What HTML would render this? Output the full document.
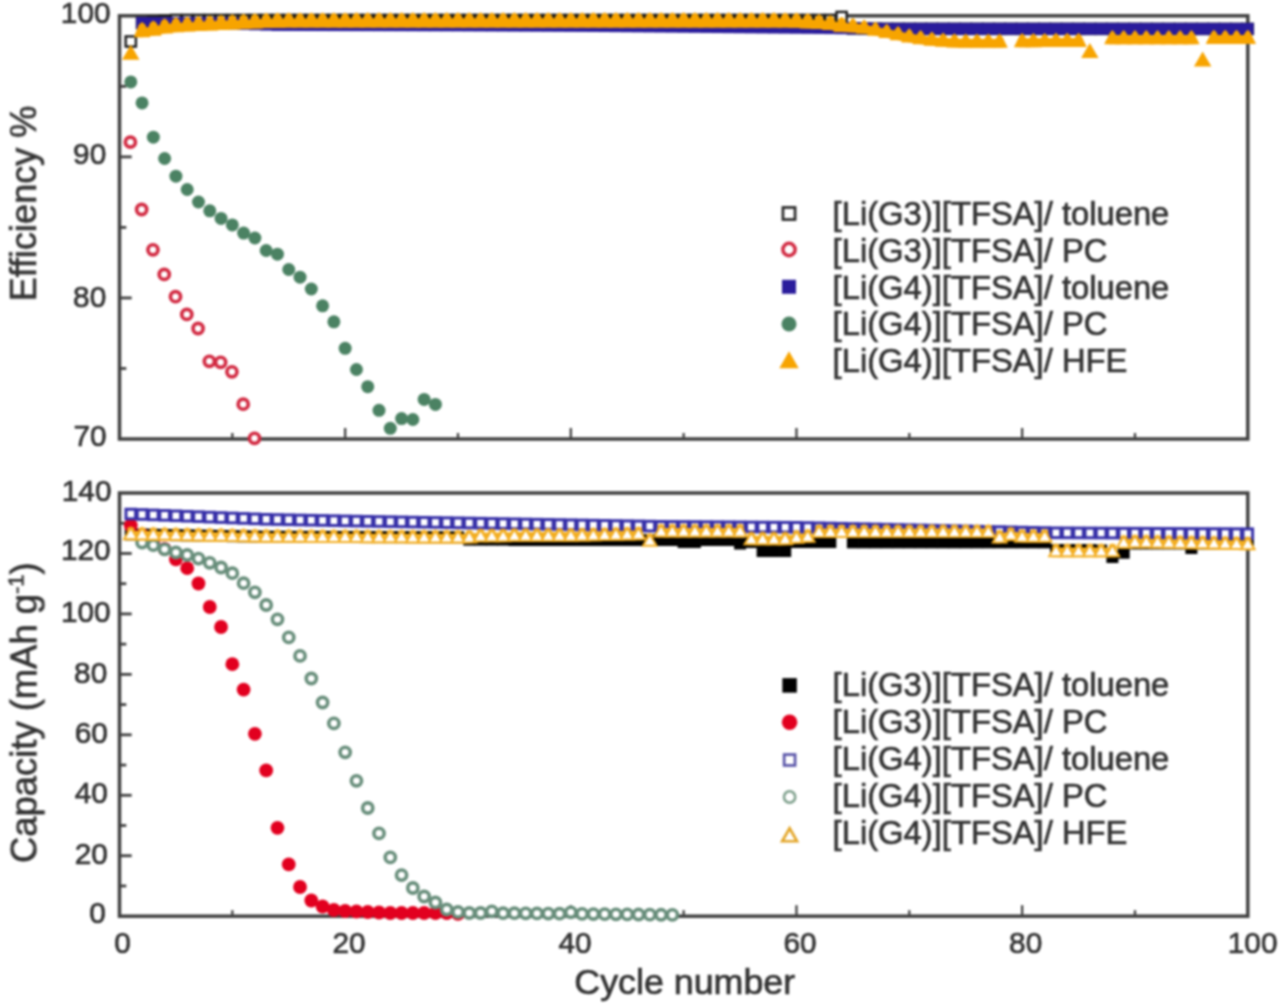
<!DOCTYPE html>
<html lang="en">
<head>
<meta charset="utf-8">
<title>Cycle performance: efficiency and capacity vs cycle number</title>
<style>
html,body{margin:0;padding:0;background:#fff;}
body{width:1280px;height:1006px;overflow:hidden;font-family:"Liberation Sans",sans-serif;}
svg{display:block;}
text{font-family:"Liberation Sans",sans-serif;}
</style>
</head>
<body>
<svg width="1280" height="1006" viewBox="0 0 1280 1006">
<defs>
<filter id="soft" x="-2%" y="-2%" width="104%" height="104%" color-interpolation-filters="sRGB"><feGaussianBlur stdDeviation="1.1"/></filter>
<filter id="softt" x="-2%" y="-2%" width="104%" height="104%" color-interpolation-filters="sRGB"><feGaussianBlur stdDeviation="0.9"/></filter>
</defs>
<rect x="-20" y="-20" width="1320" height="1046" fill="#ffffff"/>
<g filter="url(#soft)">
<g id="axes">
<rect x="119.5" y="15.8" width="1128.30" height="423.20" fill="none" stroke="#404040" stroke-width="3.5"/>
<rect x="119.5" y="493.0" width="1128.30" height="423.20" fill="none" stroke="#404040" stroke-width="3.5"/>
<line x1="232.33" y1="439.0" x2="232.33" y2="433.0" stroke="#404040" stroke-width="2.3"/>
<line x1="345.16" y1="439.0" x2="345.16" y2="428.0" stroke="#404040" stroke-width="2.3"/>
<line x1="457.99" y1="439.0" x2="457.99" y2="433.0" stroke="#404040" stroke-width="2.3"/>
<line x1="570.82" y1="439.0" x2="570.82" y2="428.0" stroke="#404040" stroke-width="2.3"/>
<line x1="683.65" y1="439.0" x2="683.65" y2="433.0" stroke="#404040" stroke-width="2.3"/>
<line x1="796.48" y1="439.0" x2="796.48" y2="428.0" stroke="#404040" stroke-width="2.3"/>
<line x1="909.31" y1="439.0" x2="909.31" y2="433.0" stroke="#404040" stroke-width="2.3"/>
<line x1="1022.14" y1="439.0" x2="1022.14" y2="428.0" stroke="#404040" stroke-width="2.3"/>
<line x1="1134.97" y1="439.0" x2="1134.97" y2="433.0" stroke="#404040" stroke-width="2.3"/>
<line x1="232.33" y1="916.2" x2="232.33" y2="910.2" stroke="#404040" stroke-width="2.3"/>
<line x1="345.16" y1="916.2" x2="345.16" y2="905.2" stroke="#404040" stroke-width="2.3"/>
<line x1="457.99" y1="916.2" x2="457.99" y2="910.2" stroke="#404040" stroke-width="2.3"/>
<line x1="570.82" y1="916.2" x2="570.82" y2="905.2" stroke="#404040" stroke-width="2.3"/>
<line x1="683.65" y1="916.2" x2="683.65" y2="910.2" stroke="#404040" stroke-width="2.3"/>
<line x1="796.48" y1="916.2" x2="796.48" y2="905.2" stroke="#404040" stroke-width="2.3"/>
<line x1="909.31" y1="916.2" x2="909.31" y2="910.2" stroke="#404040" stroke-width="2.3"/>
<line x1="1022.14" y1="916.2" x2="1022.14" y2="905.2" stroke="#404040" stroke-width="2.3"/>
<line x1="1134.97" y1="916.2" x2="1134.97" y2="910.2" stroke="#404040" stroke-width="2.3"/>
<line x1="119.5" y1="156.87" x2="131.7" y2="156.87" stroke="#404040" stroke-width="2.8"/>
<line x1="119.5" y1="297.93" x2="131.7" y2="297.93" stroke="#404040" stroke-width="2.8"/>
<line x1="119.5" y1="86.33" x2="126.3" y2="86.33" stroke="#404040" stroke-width="2.8"/>
<line x1="119.5" y1="227.40" x2="126.3" y2="227.40" stroke="#404040" stroke-width="2.8"/>
<line x1="119.5" y1="368.47" x2="126.3" y2="368.47" stroke="#404040" stroke-width="2.8"/>
<line x1="119.5" y1="855.74" x2="131.7" y2="855.74" stroke="#404040" stroke-width="2.8"/>
<line x1="119.5" y1="795.29" x2="131.7" y2="795.29" stroke="#404040" stroke-width="2.8"/>
<line x1="119.5" y1="734.83" x2="131.7" y2="734.83" stroke="#404040" stroke-width="2.8"/>
<line x1="119.5" y1="674.37" x2="131.7" y2="674.37" stroke="#404040" stroke-width="2.8"/>
<line x1="119.5" y1="613.91" x2="131.7" y2="613.91" stroke="#404040" stroke-width="2.8"/>
<line x1="119.5" y1="553.46" x2="131.7" y2="553.46" stroke="#404040" stroke-width="2.8"/>
<line x1="119.5" y1="885.97" x2="126.3" y2="885.97" stroke="#404040" stroke-width="2.8"/>
<line x1="119.5" y1="825.51" x2="126.3" y2="825.51" stroke="#404040" stroke-width="2.8"/>
<line x1="119.5" y1="765.06" x2="126.3" y2="765.06" stroke="#404040" stroke-width="2.8"/>
<line x1="119.5" y1="704.60" x2="126.3" y2="704.60" stroke="#404040" stroke-width="2.8"/>
<line x1="119.5" y1="644.14" x2="126.3" y2="644.14" stroke="#404040" stroke-width="2.8"/>
<line x1="119.5" y1="583.69" x2="126.3" y2="583.69" stroke="#404040" stroke-width="2.8"/>
<line x1="119.5" y1="523.23" x2="126.3" y2="523.23" stroke="#404040" stroke-width="2.8"/>
</g>
<g id="top-data">
<rect x="125.68" y="36.40" width="10.20" height="10.20" fill="#fff" stroke="#1a1a1a" stroke-width="2.4"/>
<rect x="136.97" y="17.90" width="10.20" height="10.20" fill="#fff" stroke="#1a1a1a" stroke-width="2.4"/>
<rect x="148.25" y="16.90" width="10.20" height="10.20" fill="#fff" stroke="#1a1a1a" stroke-width="2.4"/>
<rect x="159.53" y="15.90" width="10.20" height="10.20" fill="#fff" stroke="#1a1a1a" stroke-width="2.4"/>
<rect x="170.81" y="14.90" width="10.20" height="10.20" fill="#fff" stroke="#1a1a1a" stroke-width="2.4"/>
<rect x="182.10" y="14.90" width="10.20" height="10.20" fill="#fff" stroke="#1a1a1a" stroke-width="2.4"/>
<rect x="193.38" y="14.90" width="10.20" height="10.20" fill="#fff" stroke="#1a1a1a" stroke-width="2.4"/>
<rect x="204.66" y="14.90" width="10.20" height="10.20" fill="#fff" stroke="#1a1a1a" stroke-width="2.4"/>
<rect x="215.95" y="14.90" width="10.20" height="10.20" fill="#fff" stroke="#1a1a1a" stroke-width="2.4"/>
<rect x="227.23" y="14.90" width="10.20" height="10.20" fill="#fff" stroke="#1a1a1a" stroke-width="2.4"/>
<rect x="238.51" y="14.90" width="10.20" height="10.20" fill="#fff" stroke="#1a1a1a" stroke-width="2.4"/>
<rect x="249.80" y="14.90" width="10.20" height="10.20" fill="#fff" stroke="#1a1a1a" stroke-width="2.4"/>
<rect x="261.08" y="14.90" width="10.20" height="10.20" fill="#fff" stroke="#1a1a1a" stroke-width="2.4"/>
<rect x="272.36" y="14.90" width="10.20" height="10.20" fill="#fff" stroke="#1a1a1a" stroke-width="2.4"/>
<rect x="283.64" y="14.90" width="10.20" height="10.20" fill="#fff" stroke="#1a1a1a" stroke-width="2.4"/>
<rect x="294.93" y="14.90" width="10.20" height="10.20" fill="#fff" stroke="#1a1a1a" stroke-width="2.4"/>
<rect x="306.21" y="14.90" width="10.20" height="10.20" fill="#fff" stroke="#1a1a1a" stroke-width="2.4"/>
<rect x="317.49" y="14.90" width="10.20" height="10.20" fill="#fff" stroke="#1a1a1a" stroke-width="2.4"/>
<rect x="328.78" y="14.90" width="10.20" height="10.20" fill="#fff" stroke="#1a1a1a" stroke-width="2.4"/>
<rect x="340.06" y="14.90" width="10.20" height="10.20" fill="#fff" stroke="#1a1a1a" stroke-width="2.4"/>
<rect x="351.34" y="14.90" width="10.20" height="10.20" fill="#fff" stroke="#1a1a1a" stroke-width="2.4"/>
<rect x="362.63" y="14.90" width="10.20" height="10.20" fill="#fff" stroke="#1a1a1a" stroke-width="2.4"/>
<rect x="373.91" y="14.90" width="10.20" height="10.20" fill="#fff" stroke="#1a1a1a" stroke-width="2.4"/>
<rect x="385.19" y="14.90" width="10.20" height="10.20" fill="#fff" stroke="#1a1a1a" stroke-width="2.4"/>
<rect x="396.47" y="14.90" width="10.20" height="10.20" fill="#fff" stroke="#1a1a1a" stroke-width="2.4"/>
<rect x="407.76" y="14.90" width="10.20" height="10.20" fill="#fff" stroke="#1a1a1a" stroke-width="2.4"/>
<rect x="419.04" y="14.90" width="10.20" height="10.20" fill="#fff" stroke="#1a1a1a" stroke-width="2.4"/>
<rect x="430.32" y="14.90" width="10.20" height="10.20" fill="#fff" stroke="#1a1a1a" stroke-width="2.4"/>
<rect x="441.61" y="14.90" width="10.20" height="10.20" fill="#fff" stroke="#1a1a1a" stroke-width="2.4"/>
<rect x="452.89" y="14.90" width="10.20" height="10.20" fill="#fff" stroke="#1a1a1a" stroke-width="2.4"/>
<rect x="464.17" y="14.90" width="10.20" height="10.20" fill="#fff" stroke="#1a1a1a" stroke-width="2.4"/>
<rect x="475.46" y="14.90" width="10.20" height="10.20" fill="#fff" stroke="#1a1a1a" stroke-width="2.4"/>
<rect x="486.74" y="14.90" width="10.20" height="10.20" fill="#fff" stroke="#1a1a1a" stroke-width="2.4"/>
<rect x="498.02" y="14.90" width="10.20" height="10.20" fill="#fff" stroke="#1a1a1a" stroke-width="2.4"/>
<rect x="509.30" y="14.90" width="10.20" height="10.20" fill="#fff" stroke="#1a1a1a" stroke-width="2.4"/>
<rect x="520.59" y="14.90" width="10.20" height="10.20" fill="#fff" stroke="#1a1a1a" stroke-width="2.4"/>
<rect x="531.87" y="14.90" width="10.20" height="10.20" fill="#fff" stroke="#1a1a1a" stroke-width="2.4"/>
<rect x="543.15" y="14.90" width="10.20" height="10.20" fill="#fff" stroke="#1a1a1a" stroke-width="2.4"/>
<rect x="554.44" y="14.90" width="10.20" height="10.20" fill="#fff" stroke="#1a1a1a" stroke-width="2.4"/>
<rect x="565.72" y="14.90" width="10.20" height="10.20" fill="#fff" stroke="#1a1a1a" stroke-width="2.4"/>
<rect x="577.00" y="14.90" width="10.20" height="10.20" fill="#fff" stroke="#1a1a1a" stroke-width="2.4"/>
<rect x="588.29" y="14.90" width="10.20" height="10.20" fill="#fff" stroke="#1a1a1a" stroke-width="2.4"/>
<rect x="599.57" y="14.90" width="10.20" height="10.20" fill="#fff" stroke="#1a1a1a" stroke-width="2.4"/>
<rect x="610.85" y="14.90" width="10.20" height="10.20" fill="#fff" stroke="#1a1a1a" stroke-width="2.4"/>
<rect x="622.13" y="14.90" width="10.20" height="10.20" fill="#fff" stroke="#1a1a1a" stroke-width="2.4"/>
<rect x="633.42" y="14.90" width="10.20" height="10.20" fill="#fff" stroke="#1a1a1a" stroke-width="2.4"/>
<rect x="644.70" y="14.90" width="10.20" height="10.20" fill="#fff" stroke="#1a1a1a" stroke-width="2.4"/>
<rect x="655.98" y="14.90" width="10.20" height="10.20" fill="#fff" stroke="#1a1a1a" stroke-width="2.4"/>
<rect x="667.27" y="14.90" width="10.20" height="10.20" fill="#fff" stroke="#1a1a1a" stroke-width="2.4"/>
<rect x="678.55" y="14.90" width="10.20" height="10.20" fill="#fff" stroke="#1a1a1a" stroke-width="2.4"/>
<rect x="689.83" y="14.90" width="10.20" height="10.20" fill="#fff" stroke="#1a1a1a" stroke-width="2.4"/>
<rect x="701.12" y="14.90" width="10.20" height="10.20" fill="#fff" stroke="#1a1a1a" stroke-width="2.4"/>
<rect x="712.40" y="14.90" width="10.20" height="10.20" fill="#fff" stroke="#1a1a1a" stroke-width="2.4"/>
<rect x="723.68" y="14.90" width="10.20" height="10.20" fill="#fff" stroke="#1a1a1a" stroke-width="2.4"/>
<rect x="734.97" y="14.90" width="10.20" height="10.20" fill="#fff" stroke="#1a1a1a" stroke-width="2.4"/>
<rect x="746.25" y="14.90" width="10.20" height="10.20" fill="#fff" stroke="#1a1a1a" stroke-width="2.4"/>
<rect x="757.53" y="14.90" width="10.20" height="10.20" fill="#fff" stroke="#1a1a1a" stroke-width="2.4"/>
<rect x="768.81" y="14.90" width="10.20" height="10.20" fill="#fff" stroke="#1a1a1a" stroke-width="2.4"/>
<rect x="780.10" y="14.90" width="10.20" height="10.20" fill="#fff" stroke="#1a1a1a" stroke-width="2.4"/>
<rect x="791.38" y="14.90" width="10.20" height="10.20" fill="#fff" stroke="#1a1a1a" stroke-width="2.4"/>
<rect x="802.66" y="14.90" width="10.20" height="10.20" fill="#fff" stroke="#1a1a1a" stroke-width="2.4"/>
<rect x="813.95" y="14.90" width="10.20" height="10.20" fill="#fff" stroke="#1a1a1a" stroke-width="2.4"/>
<rect x="825.23" y="14.90" width="10.20" height="10.20" fill="#fff" stroke="#1a1a1a" stroke-width="2.4"/>
<rect x="836.51" y="11.90" width="10.20" height="10.20" fill="#fff" stroke="#1a1a1a" stroke-width="2.4"/>
<rect x="847.79" y="23.30" width="10.20" height="10.20" fill="#fff" stroke="#1a1a1a" stroke-width="2.4"/>
<rect x="859.08" y="23.43" width="10.20" height="10.20" fill="#fff" stroke="#1a1a1a" stroke-width="2.4"/>
<rect x="870.36" y="23.57" width="10.20" height="10.20" fill="#fff" stroke="#1a1a1a" stroke-width="2.4"/>
<rect x="881.64" y="23.70" width="10.20" height="10.20" fill="#fff" stroke="#1a1a1a" stroke-width="2.4"/>
<rect x="892.93" y="23.70" width="10.20" height="10.20" fill="#fff" stroke="#1a1a1a" stroke-width="2.4"/>
<rect x="904.21" y="23.71" width="10.20" height="10.20" fill="#fff" stroke="#1a1a1a" stroke-width="2.4"/>
<rect x="915.49" y="23.71" width="10.20" height="10.20" fill="#fff" stroke="#1a1a1a" stroke-width="2.4"/>
<rect x="926.78" y="23.71" width="10.20" height="10.20" fill="#fff" stroke="#1a1a1a" stroke-width="2.4"/>
<rect x="938.06" y="23.72" width="10.20" height="10.20" fill="#fff" stroke="#1a1a1a" stroke-width="2.4"/>
<rect x="949.34" y="23.72" width="10.20" height="10.20" fill="#fff" stroke="#1a1a1a" stroke-width="2.4"/>
<rect x="960.62" y="23.72" width="10.20" height="10.20" fill="#fff" stroke="#1a1a1a" stroke-width="2.4"/>
<rect x="971.91" y="23.73" width="10.20" height="10.20" fill="#fff" stroke="#1a1a1a" stroke-width="2.4"/>
<rect x="983.19" y="23.73" width="10.20" height="10.20" fill="#fff" stroke="#1a1a1a" stroke-width="2.4"/>
<rect x="994.47" y="23.73" width="10.20" height="10.20" fill="#fff" stroke="#1a1a1a" stroke-width="2.4"/>
<rect x="1005.76" y="23.73" width="10.20" height="10.20" fill="#fff" stroke="#1a1a1a" stroke-width="2.4"/>
<rect x="1017.04" y="23.74" width="10.20" height="10.20" fill="#fff" stroke="#1a1a1a" stroke-width="2.4"/>
<rect x="1028.32" y="23.74" width="10.20" height="10.20" fill="#fff" stroke="#1a1a1a" stroke-width="2.4"/>
<rect x="1039.61" y="23.74" width="10.20" height="10.20" fill="#fff" stroke="#1a1a1a" stroke-width="2.4"/>
<rect x="1050.89" y="23.75" width="10.20" height="10.20" fill="#fff" stroke="#1a1a1a" stroke-width="2.4"/>
<rect x="1062.17" y="23.75" width="10.20" height="10.20" fill="#fff" stroke="#1a1a1a" stroke-width="2.4"/>
<rect x="1073.45" y="23.75" width="10.20" height="10.20" fill="#fff" stroke="#1a1a1a" stroke-width="2.4"/>
<rect x="1084.74" y="23.76" width="10.20" height="10.20" fill="#fff" stroke="#1a1a1a" stroke-width="2.4"/>
<rect x="1096.02" y="23.76" width="10.20" height="10.20" fill="#fff" stroke="#1a1a1a" stroke-width="2.4"/>
<rect x="1107.30" y="23.76" width="10.20" height="10.20" fill="#fff" stroke="#1a1a1a" stroke-width="2.4"/>
<rect x="1118.59" y="23.77" width="10.20" height="10.20" fill="#fff" stroke="#1a1a1a" stroke-width="2.4"/>
<rect x="1129.87" y="23.77" width="10.20" height="10.20" fill="#fff" stroke="#1a1a1a" stroke-width="2.4"/>
<rect x="1141.15" y="23.77" width="10.20" height="10.20" fill="#fff" stroke="#1a1a1a" stroke-width="2.4"/>
<rect x="1152.44" y="23.77" width="10.20" height="10.20" fill="#fff" stroke="#1a1a1a" stroke-width="2.4"/>
<rect x="1163.72" y="23.78" width="10.20" height="10.20" fill="#fff" stroke="#1a1a1a" stroke-width="2.4"/>
<rect x="1175.00" y="23.78" width="10.20" height="10.20" fill="#fff" stroke="#1a1a1a" stroke-width="2.4"/>
<rect x="1186.29" y="23.78" width="10.20" height="10.20" fill="#fff" stroke="#1a1a1a" stroke-width="2.4"/>
<rect x="1197.57" y="23.79" width="10.20" height="10.20" fill="#fff" stroke="#1a1a1a" stroke-width="2.4"/>
<rect x="1208.85" y="23.79" width="10.20" height="10.20" fill="#fff" stroke="#1a1a1a" stroke-width="2.4"/>
<rect x="1220.13" y="23.79" width="10.20" height="10.20" fill="#fff" stroke="#1a1a1a" stroke-width="2.4"/>
<rect x="1231.42" y="23.80" width="10.20" height="10.20" fill="#fff" stroke="#1a1a1a" stroke-width="2.4"/>
<rect x="1242.70" y="23.80" width="10.20" height="10.20" fill="#fff" stroke="#1a1a1a" stroke-width="2.4"/>
<circle cx="130.38" cy="142.10" r="5.05" fill="#fff" stroke="#d22a42" stroke-width="3.7"/>
<circle cx="141.67" cy="209.50" r="5.05" fill="#fff" stroke="#d22a42" stroke-width="3.7"/>
<circle cx="152.95" cy="249.80" r="5.05" fill="#fff" stroke="#d22a42" stroke-width="3.7"/>
<circle cx="164.23" cy="274.40" r="5.05" fill="#fff" stroke="#d22a42" stroke-width="3.7"/>
<circle cx="175.51" cy="296.70" r="5.05" fill="#fff" stroke="#d22a42" stroke-width="3.7"/>
<circle cx="186.80" cy="314.40" r="5.05" fill="#fff" stroke="#d22a42" stroke-width="3.7"/>
<circle cx="198.08" cy="328.50" r="5.05" fill="#fff" stroke="#d22a42" stroke-width="3.7"/>
<circle cx="209.36" cy="361.30" r="5.05" fill="#fff" stroke="#d22a42" stroke-width="3.7"/>
<circle cx="220.65" cy="362.30" r="5.05" fill="#fff" stroke="#d22a42" stroke-width="3.7"/>
<circle cx="231.93" cy="371.80" r="5.05" fill="#fff" stroke="#d22a42" stroke-width="3.7"/>
<circle cx="243.21" cy="404.20" r="5.05" fill="#fff" stroke="#d22a42" stroke-width="3.7"/>
<circle cx="254.50" cy="438.30" r="5.05" fill="#fff" stroke="#d22a42" stroke-width="3.7"/>
<rect x="136.12" y="17.05" width="11.90" height="11.90" fill="#2a1c9c"/>
<rect x="147.40" y="17.08" width="11.90" height="11.90" fill="#2a1c9c"/>
<rect x="158.68" y="17.11" width="11.90" height="11.90" fill="#2a1c9c"/>
<rect x="169.97" y="17.14" width="11.90" height="11.90" fill="#2a1c9c"/>
<rect x="181.25" y="17.16" width="11.90" height="11.90" fill="#2a1c9c"/>
<rect x="192.53" y="17.19" width="11.90" height="11.90" fill="#2a1c9c"/>
<rect x="203.81" y="17.22" width="11.90" height="11.90" fill="#2a1c9c"/>
<rect x="215.10" y="17.25" width="11.90" height="11.90" fill="#2a1c9c"/>
<rect x="226.38" y="17.61" width="11.90" height="11.90" fill="#2a1c9c"/>
<rect x="237.66" y="17.97" width="11.90" height="11.90" fill="#2a1c9c"/>
<rect x="248.95" y="18.33" width="11.90" height="11.90" fill="#2a1c9c"/>
<rect x="260.23" y="18.69" width="11.90" height="11.90" fill="#2a1c9c"/>
<rect x="271.51" y="19.05" width="11.90" height="11.90" fill="#2a1c9c"/>
<rect x="282.80" y="19.07" width="11.90" height="11.90" fill="#2a1c9c"/>
<rect x="294.08" y="19.10" width="11.90" height="11.90" fill="#2a1c9c"/>
<rect x="305.36" y="19.12" width="11.90" height="11.90" fill="#2a1c9c"/>
<rect x="316.64" y="19.15" width="11.90" height="11.90" fill="#2a1c9c"/>
<rect x="327.93" y="19.18" width="11.90" height="11.90" fill="#2a1c9c"/>
<rect x="339.21" y="19.20" width="11.90" height="11.90" fill="#2a1c9c"/>
<rect x="350.49" y="19.23" width="11.90" height="11.90" fill="#2a1c9c"/>
<rect x="361.78" y="19.25" width="11.90" height="11.90" fill="#2a1c9c"/>
<rect x="373.06" y="19.27" width="11.90" height="11.90" fill="#2a1c9c"/>
<rect x="384.34" y="19.30" width="11.90" height="11.90" fill="#2a1c9c"/>
<rect x="395.62" y="19.32" width="11.90" height="11.90" fill="#2a1c9c"/>
<rect x="406.91" y="19.35" width="11.90" height="11.90" fill="#2a1c9c"/>
<rect x="418.19" y="19.38" width="11.90" height="11.90" fill="#2a1c9c"/>
<rect x="429.47" y="19.40" width="11.90" height="11.90" fill="#2a1c9c"/>
<rect x="440.76" y="19.43" width="11.90" height="11.90" fill="#2a1c9c"/>
<rect x="452.04" y="19.45" width="11.90" height="11.90" fill="#2a1c9c"/>
<rect x="463.32" y="19.50" width="11.90" height="11.90" fill="#2a1c9c"/>
<rect x="474.61" y="19.55" width="11.90" height="11.90" fill="#2a1c9c"/>
<rect x="485.89" y="19.60" width="11.90" height="11.90" fill="#2a1c9c"/>
<rect x="497.17" y="19.65" width="11.90" height="11.90" fill="#2a1c9c"/>
<rect x="508.45" y="19.70" width="11.90" height="11.90" fill="#2a1c9c"/>
<rect x="519.74" y="19.75" width="11.90" height="11.90" fill="#2a1c9c"/>
<rect x="531.02" y="19.80" width="11.90" height="11.90" fill="#2a1c9c"/>
<rect x="542.30" y="19.85" width="11.90" height="11.90" fill="#2a1c9c"/>
<rect x="553.59" y="19.90" width="11.90" height="11.90" fill="#2a1c9c"/>
<rect x="564.87" y="19.95" width="11.90" height="11.90" fill="#2a1c9c"/>
<rect x="576.15" y="20.00" width="11.90" height="11.90" fill="#2a1c9c"/>
<rect x="587.44" y="20.05" width="11.90" height="11.90" fill="#2a1c9c"/>
<rect x="598.72" y="20.15" width="11.90" height="11.90" fill="#2a1c9c"/>
<rect x="610.00" y="20.25" width="11.90" height="11.90" fill="#2a1c9c"/>
<rect x="621.28" y="20.35" width="11.90" height="11.90" fill="#2a1c9c"/>
<rect x="632.57" y="20.45" width="11.90" height="11.90" fill="#2a1c9c"/>
<rect x="643.85" y="20.55" width="11.90" height="11.90" fill="#2a1c9c"/>
<rect x="655.13" y="20.65" width="11.90" height="11.90" fill="#2a1c9c"/>
<rect x="666.42" y="20.75" width="11.90" height="11.90" fill="#2a1c9c"/>
<rect x="677.70" y="20.85" width="11.90" height="11.90" fill="#2a1c9c"/>
<rect x="688.98" y="20.95" width="11.90" height="11.90" fill="#2a1c9c"/>
<rect x="700.27" y="21.05" width="11.90" height="11.90" fill="#2a1c9c"/>
<rect x="711.55" y="21.15" width="11.90" height="11.90" fill="#2a1c9c"/>
<rect x="722.83" y="21.25" width="11.90" height="11.90" fill="#2a1c9c"/>
<rect x="734.12" y="21.35" width="11.90" height="11.90" fill="#2a1c9c"/>
<rect x="745.40" y="21.45" width="11.90" height="11.90" fill="#2a1c9c"/>
<rect x="756.68" y="21.55" width="11.90" height="11.90" fill="#2a1c9c"/>
<rect x="767.96" y="21.65" width="11.90" height="11.90" fill="#2a1c9c"/>
<rect x="779.25" y="21.75" width="11.90" height="11.90" fill="#2a1c9c"/>
<rect x="790.53" y="21.85" width="11.90" height="11.90" fill="#2a1c9c"/>
<rect x="801.81" y="21.95" width="11.90" height="11.90" fill="#2a1c9c"/>
<rect x="813.10" y="22.05" width="11.90" height="11.90" fill="#2a1c9c"/>
<rect x="824.38" y="22.18" width="11.90" height="11.90" fill="#2a1c9c"/>
<rect x="835.66" y="22.32" width="11.90" height="11.90" fill="#2a1c9c"/>
<rect x="846.94" y="22.45" width="11.90" height="11.90" fill="#2a1c9c"/>
<rect x="858.23" y="22.58" width="11.90" height="11.90" fill="#2a1c9c"/>
<rect x="869.51" y="22.72" width="11.90" height="11.90" fill="#2a1c9c"/>
<rect x="880.79" y="22.85" width="11.90" height="11.90" fill="#2a1c9c"/>
<rect x="892.08" y="22.85" width="11.90" height="11.90" fill="#2a1c9c"/>
<rect x="903.36" y="22.86" width="11.90" height="11.90" fill="#2a1c9c"/>
<rect x="914.64" y="22.86" width="11.90" height="11.90" fill="#2a1c9c"/>
<rect x="925.93" y="22.86" width="11.90" height="11.90" fill="#2a1c9c"/>
<rect x="937.21" y="22.87" width="11.90" height="11.90" fill="#2a1c9c"/>
<rect x="948.49" y="22.87" width="11.90" height="11.90" fill="#2a1c9c"/>
<rect x="959.77" y="22.87" width="11.90" height="11.90" fill="#2a1c9c"/>
<rect x="971.06" y="22.88" width="11.90" height="11.90" fill="#2a1c9c"/>
<rect x="982.34" y="22.88" width="11.90" height="11.90" fill="#2a1c9c"/>
<rect x="993.62" y="22.88" width="11.90" height="11.90" fill="#2a1c9c"/>
<rect x="1004.91" y="22.88" width="11.90" height="11.90" fill="#2a1c9c"/>
<rect x="1016.19" y="22.89" width="11.90" height="11.90" fill="#2a1c9c"/>
<rect x="1027.47" y="22.89" width="11.90" height="11.90" fill="#2a1c9c"/>
<rect x="1038.76" y="22.89" width="11.90" height="11.90" fill="#2a1c9c"/>
<rect x="1050.04" y="22.90" width="11.90" height="11.90" fill="#2a1c9c"/>
<rect x="1061.32" y="22.90" width="11.90" height="11.90" fill="#2a1c9c"/>
<rect x="1072.60" y="22.90" width="11.90" height="11.90" fill="#2a1c9c"/>
<rect x="1083.89" y="22.91" width="11.90" height="11.90" fill="#2a1c9c"/>
<rect x="1095.17" y="22.91" width="11.90" height="11.90" fill="#2a1c9c"/>
<rect x="1106.45" y="22.91" width="11.90" height="11.90" fill="#2a1c9c"/>
<rect x="1117.74" y="22.92" width="11.90" height="11.90" fill="#2a1c9c"/>
<rect x="1129.02" y="22.92" width="11.90" height="11.90" fill="#2a1c9c"/>
<rect x="1140.30" y="22.92" width="11.90" height="11.90" fill="#2a1c9c"/>
<rect x="1151.59" y="22.93" width="11.90" height="11.90" fill="#2a1c9c"/>
<rect x="1162.87" y="22.93" width="11.90" height="11.90" fill="#2a1c9c"/>
<rect x="1174.15" y="22.93" width="11.90" height="11.90" fill="#2a1c9c"/>
<rect x="1185.43" y="22.93" width="11.90" height="11.90" fill="#2a1c9c"/>
<rect x="1196.72" y="22.94" width="11.90" height="11.90" fill="#2a1c9c"/>
<rect x="1208.00" y="22.94" width="11.90" height="11.90" fill="#2a1c9c"/>
<rect x="1219.28" y="22.94" width="11.90" height="11.90" fill="#2a1c9c"/>
<rect x="1230.57" y="22.95" width="11.90" height="11.90" fill="#2a1c9c"/>
<rect x="1241.85" y="22.95" width="11.90" height="11.90" fill="#2a1c9c"/>
<circle cx="130.78" cy="81.90" r="6.50" fill="#4b8263"/>
<circle cx="142.07" cy="102.90" r="6.50" fill="#4b8263"/>
<circle cx="153.35" cy="137.20" r="6.50" fill="#4b8263"/>
<circle cx="164.63" cy="158.50" r="6.50" fill="#4b8263"/>
<circle cx="175.91" cy="176.20" r="6.50" fill="#4b8263"/>
<circle cx="187.20" cy="189.50" r="6.50" fill="#4b8263"/>
<circle cx="198.48" cy="202.00" r="6.50" fill="#4b8263"/>
<circle cx="209.76" cy="210.80" r="6.50" fill="#4b8263"/>
<circle cx="221.05" cy="218.40" r="6.50" fill="#4b8263"/>
<circle cx="232.33" cy="224.90" r="6.50" fill="#4b8263"/>
<circle cx="243.61" cy="233.10" r="6.50" fill="#4b8263"/>
<circle cx="254.90" cy="238.00" r="6.50" fill="#4b8263"/>
<circle cx="266.18" cy="250.50" r="6.50" fill="#4b8263"/>
<circle cx="277.46" cy="254.20" r="6.50" fill="#4b8263"/>
<circle cx="288.75" cy="269.50" r="6.50" fill="#4b8263"/>
<circle cx="300.03" cy="277.20" r="6.50" fill="#4b8263"/>
<circle cx="311.31" cy="289.00" r="6.50" fill="#4b8263"/>
<circle cx="322.59" cy="305.80" r="6.50" fill="#4b8263"/>
<circle cx="333.88" cy="321.80" r="6.50" fill="#4b8263"/>
<circle cx="345.16" cy="348.30" r="6.50" fill="#4b8263"/>
<circle cx="356.44" cy="369.50" r="6.50" fill="#4b8263"/>
<circle cx="367.73" cy="386.70" r="6.50" fill="#4b8263"/>
<circle cx="379.01" cy="410.30" r="6.50" fill="#4b8263"/>
<circle cx="390.29" cy="428.30" r="6.50" fill="#4b8263"/>
<circle cx="401.57" cy="418.60" r="6.50" fill="#4b8263"/>
<circle cx="412.86" cy="419.50" r="6.50" fill="#4b8263"/>
<circle cx="424.14" cy="399.40" r="6.50" fill="#4b8263"/>
<circle cx="435.42" cy="404.40" r="6.50" fill="#4b8263"/>
<polygon points="122.03,59.80 139.53,59.80 130.78,44.80" fill="#f7a400"/>
<polygon points="138.07,28.10 142.07,28.10 153.35,26.50 164.63,24.30 175.91,23.10 187.20,22.40 198.48,21.80 209.76,21.20 221.05,20.70 232.33,20.20 243.61,19.70 254.90,19.20 266.18,18.80 277.46,18.60 288.75,18.40 300.03,18.40 311.31,18.39 322.59,18.39 333.88,18.38 345.16,18.38 356.44,18.37 367.73,18.37 379.01,18.36 390.29,18.36 401.57,18.35 412.86,18.35 424.14,18.34 435.42,18.34 446.71,18.33 457.99,18.33 469.27,18.33 480.56,18.32 491.84,18.32 503.12,18.31 514.40,18.31 525.69,18.30 536.97,18.30 548.25,18.29 559.54,18.29 570.82,18.28 582.10,18.28 593.39,18.27 604.67,18.27 615.95,18.27 627.24,18.26 638.52,18.26 649.80,18.25 661.08,18.25 672.37,18.24 683.65,18.24 694.93,18.23 706.22,18.23 717.50,18.22 728.78,18.22 740.07,18.21 751.35,18.21 762.63,18.20 773.91,18.20 785.20,18.40 796.48,18.60 807.76,19.25 819.05,19.90 830.33,20.90 841.61,22.70 852.89,23.50 856.89,23.50 856.89,32.70 852.89,32.70 841.61,31.90 830.33,30.10 819.05,29.10 807.76,28.45 796.48,27.80 785.20,27.60 773.91,27.40 762.63,27.40 751.35,27.41 740.07,27.41 728.78,27.42 717.50,27.42 706.22,27.43 694.93,27.43 683.65,27.44 672.37,27.44 661.08,27.45 649.80,27.45 638.52,27.46 627.24,27.46 615.95,27.47 604.67,27.47 593.39,27.47 582.10,27.48 570.82,27.48 559.54,27.49 548.25,27.49 536.97,27.50 525.69,27.50 514.40,27.51 503.12,27.51 491.84,27.52 480.56,27.52 469.27,27.53 457.99,27.53 446.71,27.53 435.42,27.54 424.14,27.54 412.86,27.55 401.57,27.55 390.29,27.56 379.01,27.56 367.73,27.57 356.44,27.57 345.16,27.58 333.88,27.58 322.59,27.59 311.31,27.59 300.03,27.60 288.75,27.60 277.46,27.80 266.18,28.00 254.90,28.40 243.61,28.90 232.33,29.40 221.05,29.90 209.76,30.40 198.48,31.00 187.20,31.60 175.91,32.30 164.63,33.50 153.35,35.70 142.07,37.30 138.07,37.30" fill="#f7a400"/>
<polygon points="848.89,23.00 852.89,23.00 864.18,24.70 875.46,26.70 886.74,29.00 898.03,31.20 909.31,33.40 920.59,35.20 931.88,36.70 943.16,37.70 954.44,38.50 965.73,38.80 977.01,38.80 988.29,38.80 999.57,38.80 1003.57,38.80 1003.57,47.80 999.57,47.80 988.29,47.80 977.01,47.80 965.73,47.80 954.44,47.50 943.16,46.70 931.88,45.70 920.59,44.20 909.31,42.40 898.03,40.20 886.74,38.00 875.46,35.70 864.18,33.70 852.89,32.00 848.89,32.00" fill="#f7a400"/>
<polygon points="142.07,22.10 145.37,24.70 150.32,37.30 133.82,37.30 138.77,24.70" fill="#f7a400"/>
<polygon points="153.35,20.50 156.65,23.10 161.60,35.70 145.10,35.70 150.05,23.10" fill="#f7a400"/>
<polygon points="164.63,18.30 167.93,20.90 172.88,33.50 156.38,33.50 161.33,20.90" fill="#f7a400"/>
<polygon points="175.91,17.10 179.22,19.70 184.16,32.30 167.66,32.30 172.61,19.70" fill="#f7a400"/>
<polygon points="187.20,16.40 190.50,19.00 195.45,31.60 178.95,31.60 183.90,19.00" fill="#f7a400"/>
<polygon points="198.48,15.80 201.78,18.40 206.73,31.00 190.23,31.00 195.18,18.40" fill="#f7a400"/>
<polygon points="209.76,15.20 213.06,17.80 218.01,30.40 201.51,30.40 206.46,17.80" fill="#f7a400"/>
<polygon points="221.05,14.70 224.35,17.30 229.30,29.90 212.80,29.90 217.75,17.30" fill="#f7a400"/>
<polygon points="232.33,14.20 235.63,16.80 240.58,29.40 224.08,29.40 229.03,16.80" fill="#f7a400"/>
<polygon points="243.61,13.70 246.91,16.30 251.86,28.90 235.36,28.90 240.31,16.30" fill="#f7a400"/>
<polygon points="254.90,13.20 258.20,15.80 263.15,28.40 246.65,28.40 251.60,15.80" fill="#f7a400"/>
<polygon points="266.18,12.80 269.48,15.40 274.43,28.00 257.93,28.00 262.88,15.40" fill="#f7a400"/>
<polygon points="277.46,12.60 280.76,15.20 285.71,27.80 269.21,27.80 274.16,15.20" fill="#f7a400"/>
<polygon points="288.75,12.40 292.05,15.00 297.00,27.60 280.50,27.60 285.44,15.00" fill="#f7a400"/>
<polygon points="300.03,12.40 303.33,15.00 308.28,27.60 291.78,27.60 296.73,15.00" fill="#f7a400"/>
<polygon points="311.31,12.39 314.61,14.99 319.56,27.59 303.06,27.59 308.01,14.99" fill="#f7a400"/>
<polygon points="322.59,12.39 325.89,14.99 330.84,27.59 314.34,27.59 319.29,14.99" fill="#f7a400"/>
<polygon points="333.88,12.38 337.18,14.98 342.13,27.58 325.63,27.58 330.58,14.98" fill="#f7a400"/>
<polygon points="345.16,12.38 348.46,14.98 353.41,27.58 336.91,27.58 341.86,14.98" fill="#f7a400"/>
<polygon points="356.44,12.37 359.74,14.97 364.69,27.57 348.19,27.57 353.14,14.97" fill="#f7a400"/>
<polygon points="367.73,12.37 371.03,14.97 375.98,27.57 359.48,27.57 364.43,14.97" fill="#f7a400"/>
<polygon points="379.01,12.36 382.31,14.96 387.26,27.56 370.76,27.56 375.71,14.96" fill="#f7a400"/>
<polygon points="390.29,12.36 393.59,14.96 398.54,27.56 382.04,27.56 386.99,14.96" fill="#f7a400"/>
<polygon points="401.57,12.35 404.88,14.95 409.82,27.55 393.32,27.55 398.27,14.95" fill="#f7a400"/>
<polygon points="412.86,12.35 416.16,14.95 421.11,27.55 404.61,27.55 409.56,14.95" fill="#f7a400"/>
<polygon points="424.14,12.34 427.44,14.94 432.39,27.54 415.89,27.54 420.84,14.94" fill="#f7a400"/>
<polygon points="435.42,12.34 438.72,14.94 443.67,27.54 427.17,27.54 432.12,14.94" fill="#f7a400"/>
<polygon points="446.71,12.33 450.01,14.93 454.96,27.53 438.46,27.53 443.41,14.93" fill="#f7a400"/>
<polygon points="457.99,12.33 461.29,14.93 466.24,27.53 449.74,27.53 454.69,14.93" fill="#f7a400"/>
<polygon points="469.27,12.33 472.57,14.93 477.52,27.53 461.02,27.53 465.97,14.93" fill="#f7a400"/>
<polygon points="480.56,12.32 483.86,14.92 488.81,27.52 472.31,27.52 477.26,14.92" fill="#f7a400"/>
<polygon points="491.84,12.32 495.14,14.92 500.09,27.52 483.59,27.52 488.54,14.92" fill="#f7a400"/>
<polygon points="503.12,12.31 506.42,14.91 511.37,27.51 494.87,27.51 499.82,14.91" fill="#f7a400"/>
<polygon points="514.40,12.31 517.70,14.91 522.65,27.51 506.15,27.51 511.10,14.91" fill="#f7a400"/>
<polygon points="525.69,12.30 528.99,14.90 533.94,27.50 517.44,27.50 522.39,14.90" fill="#f7a400"/>
<polygon points="536.97,12.30 540.27,14.90 545.22,27.50 528.72,27.50 533.67,14.90" fill="#f7a400"/>
<polygon points="548.25,12.29 551.55,14.89 556.50,27.49 540.00,27.49 544.95,14.89" fill="#f7a400"/>
<polygon points="559.54,12.29 562.84,14.89 567.79,27.49 551.29,27.49 556.24,14.89" fill="#f7a400"/>
<polygon points="570.82,12.28 574.12,14.88 579.07,27.48 562.57,27.48 567.52,14.88" fill="#f7a400"/>
<polygon points="582.10,12.28 585.40,14.88 590.35,27.48 573.85,27.48 578.80,14.88" fill="#f7a400"/>
<polygon points="593.39,12.27 596.69,14.87 601.64,27.47 585.14,27.47 590.09,14.87" fill="#f7a400"/>
<polygon points="604.67,12.27 607.97,14.87 612.92,27.47 596.42,27.47 601.37,14.87" fill="#f7a400"/>
<polygon points="615.95,12.27 619.25,14.87 624.20,27.47 607.70,27.47 612.65,14.87" fill="#f7a400"/>
<polygon points="627.24,12.26 630.53,14.86 635.49,27.46 618.99,27.46 623.94,14.86" fill="#f7a400"/>
<polygon points="638.52,12.26 641.82,14.86 646.77,27.46 630.27,27.46 635.22,14.86" fill="#f7a400"/>
<polygon points="649.80,12.25 653.10,14.85 658.05,27.45 641.55,27.45 646.50,14.85" fill="#f7a400"/>
<polygon points="661.08,12.25 664.38,14.85 669.33,27.45 652.83,27.45 657.78,14.85" fill="#f7a400"/>
<polygon points="672.37,12.24 675.67,14.84 680.62,27.44 664.12,27.44 669.07,14.84" fill="#f7a400"/>
<polygon points="683.65,12.24 686.95,14.84 691.90,27.44 675.40,27.44 680.35,14.84" fill="#f7a400"/>
<polygon points="694.93,12.23 698.23,14.83 703.18,27.43 686.68,27.43 691.63,14.83" fill="#f7a400"/>
<polygon points="706.22,12.23 709.52,14.83 714.47,27.43 697.97,27.43 702.92,14.83" fill="#f7a400"/>
<polygon points="717.50,12.22 720.80,14.82 725.75,27.42 709.25,27.42 714.20,14.82" fill="#f7a400"/>
<polygon points="728.78,12.22 732.08,14.82 737.03,27.42 720.53,27.42 725.48,14.82" fill="#f7a400"/>
<polygon points="740.07,12.21 743.37,14.81 748.32,27.41 731.82,27.41 736.77,14.81" fill="#f7a400"/>
<polygon points="751.35,12.21 754.65,14.81 759.60,27.41 743.10,27.41 748.05,14.81" fill="#f7a400"/>
<polygon points="762.63,12.20 765.93,14.80 770.88,27.40 754.38,27.40 759.33,14.80" fill="#f7a400"/>
<polygon points="773.91,12.20 777.21,14.80 782.16,27.40 765.66,27.40 770.61,14.80" fill="#f7a400"/>
<polygon points="785.20,12.40 788.50,15.00 793.45,27.60 776.95,27.60 781.90,15.00" fill="#f7a400"/>
<polygon points="796.48,12.60 799.78,15.20 804.73,27.80 788.23,27.80 793.18,15.20" fill="#f7a400"/>
<polygon points="807.76,13.25 811.06,15.85 816.01,28.45 799.51,28.45 804.46,15.85" fill="#f7a400"/>
<polygon points="819.05,13.90 822.35,16.50 827.30,29.10 810.80,29.10 815.75,16.50" fill="#f7a400"/>
<polygon points="830.33,14.90 833.63,17.50 838.58,30.10 822.08,30.10 827.03,17.50" fill="#f7a400"/>
<polygon points="841.61,16.70 844.91,19.30 849.86,31.90 833.36,31.90 838.31,19.30" fill="#f7a400"/>
<polygon points="852.89,17.80 855.50,20.60 861.14,32.00 844.64,32.00 850.29,20.60" fill="#f7a400"/>
<polygon points="864.18,19.50 866.78,22.30 872.43,33.70 855.93,33.70 861.58,22.30" fill="#f7a400"/>
<polygon points="875.46,21.50 878.06,24.30 883.71,35.70 867.21,35.70 872.86,24.30" fill="#f7a400"/>
<polygon points="886.74,23.80 889.34,26.60 894.99,38.00 878.49,38.00 884.14,26.60" fill="#f7a400"/>
<polygon points="898.03,26.00 900.63,28.80 906.28,40.20 889.78,40.20 895.43,28.80" fill="#f7a400"/>
<polygon points="909.31,28.20 911.91,31.00 917.56,42.40 901.06,42.40 906.71,31.00" fill="#f7a400"/>
<polygon points="920.59,30.00 923.19,32.80 928.84,44.20 912.34,44.20 917.99,32.80" fill="#f7a400"/>
<polygon points="931.88,31.50 934.48,34.30 940.13,45.70 923.63,45.70 929.28,34.30" fill="#f7a400"/>
<polygon points="943.16,32.50 945.76,35.30 951.41,46.70 934.91,46.70 940.56,35.30" fill="#f7a400"/>
<polygon points="954.44,33.30 957.04,36.10 962.69,47.50 946.19,47.50 951.84,36.10" fill="#f7a400"/>
<polygon points="965.73,33.60 968.33,36.40 973.98,47.80 957.48,47.80 963.12,36.40" fill="#f7a400"/>
<polygon points="977.01,33.60 979.61,36.40 985.26,47.80 968.76,47.80 974.41,36.40" fill="#f7a400"/>
<polygon points="988.29,33.60 990.89,36.40 996.54,47.80 980.04,47.80 985.69,36.40" fill="#f7a400"/>
<polygon points="999.57,33.60 1002.17,36.40 1007.82,47.80 991.32,47.80 996.97,36.40" fill="#f7a400"/>
<polygon points="1018.14,38.20 1022.14,38.20 1033.42,38.14 1044.71,38.08 1055.99,38.02 1067.27,37.96 1078.55,37.90 1082.55,37.90 1082.55,46.90 1078.55,46.90 1067.27,46.96 1055.99,47.02 1044.71,47.08 1033.42,47.14 1022.14,47.20 1018.14,47.20" fill="#f7a400"/>
<polygon points="1022.14,33.00 1024.74,35.80 1030.39,47.20 1013.89,47.20 1019.54,35.80" fill="#f7a400"/>
<polygon points="1033.42,32.94 1036.02,35.74 1041.67,47.14 1025.17,47.14 1030.82,35.74" fill="#f7a400"/>
<polygon points="1044.71,32.88 1047.31,35.68 1052.96,47.08 1036.46,47.08 1042.11,35.68" fill="#f7a400"/>
<polygon points="1055.99,32.82 1058.59,35.62 1064.24,47.02 1047.74,47.02 1053.39,35.62" fill="#f7a400"/>
<polygon points="1067.27,32.76 1069.87,35.56 1075.52,46.96 1059.02,46.96 1064.67,35.56" fill="#f7a400"/>
<polygon points="1078.55,32.70 1081.15,35.50 1086.80,46.90 1070.30,46.90 1075.95,35.50" fill="#f7a400"/>
<polygon points="1081.09,58.00 1098.59,58.00 1089.84,43.00" fill="#f7a400"/>
<polygon points="1108.40,35.30 1112.40,35.30 1123.69,35.30 1134.97,35.30 1146.25,35.30 1157.54,35.30 1168.82,35.30 1180.10,35.30 1191.38,35.30 1195.38,35.30 1195.38,44.30 1191.38,44.30 1180.10,44.30 1168.82,44.30 1157.54,44.30 1146.25,44.30 1134.97,44.30 1123.69,44.30 1112.40,44.30 1108.40,44.30" fill="#f7a400"/>
<polygon points="1112.40,30.10 1115.00,32.90 1120.65,44.30 1104.15,44.30 1109.80,32.90" fill="#f7a400"/>
<polygon points="1123.69,30.10 1126.29,32.90 1131.94,44.30 1115.44,44.30 1121.09,32.90" fill="#f7a400"/>
<polygon points="1134.97,30.10 1137.57,32.90 1143.22,44.30 1126.72,44.30 1132.37,32.90" fill="#f7a400"/>
<polygon points="1146.25,30.10 1148.85,32.90 1154.50,44.30 1138.00,44.30 1143.65,32.90" fill="#f7a400"/>
<polygon points="1157.54,30.10 1160.14,32.90 1165.79,44.30 1149.29,44.30 1154.94,32.90" fill="#f7a400"/>
<polygon points="1168.82,30.10 1171.42,32.90 1177.07,44.30 1160.57,44.30 1166.22,32.90" fill="#f7a400"/>
<polygon points="1180.10,30.10 1182.70,32.90 1188.35,44.30 1171.85,44.30 1177.50,32.90" fill="#f7a400"/>
<polygon points="1191.38,30.10 1193.98,32.90 1199.63,44.30 1183.13,44.30 1188.79,32.90" fill="#f7a400"/>
<polygon points="1193.92,66.60 1211.42,66.60 1202.67,51.60" fill="#f7a400"/>
<polygon points="1209.95,34.90 1213.95,34.90 1225.23,34.90 1236.52,34.90 1247.80,34.90 1251.80,34.90 1251.80,43.90 1247.80,43.90 1236.52,43.90 1225.23,43.90 1213.95,43.90 1209.95,43.90" fill="#f7a400"/>
<polygon points="1213.95,29.70 1216.55,32.50 1222.20,43.90 1205.70,43.90 1211.35,32.50" fill="#f7a400"/>
<polygon points="1225.23,29.70 1227.83,32.50 1233.48,43.90 1216.98,43.90 1222.63,32.50" fill="#f7a400"/>
<polygon points="1236.52,29.70 1239.12,32.50 1244.77,43.90 1228.27,43.90 1233.92,32.50" fill="#f7a400"/>
<polygon points="1247.80,29.70 1250.40,32.50 1256.05,43.90 1239.55,43.90 1245.20,32.50" fill="#f7a400"/>
</g>
<g id="bottom-data">
<rect x="124.78" y="528.40" width="12.00" height="12.00" fill="#000000"/>
<rect x="136.07" y="528.60" width="12.00" height="12.00" fill="#000000"/>
<rect x="147.35" y="528.80" width="12.00" height="12.00" fill="#000000"/>
<rect x="158.63" y="529.00" width="12.00" height="12.00" fill="#000000"/>
<rect x="169.91" y="529.20" width="12.00" height="12.00" fill="#000000"/>
<rect x="181.20" y="529.40" width="12.00" height="12.00" fill="#000000"/>
<rect x="192.48" y="529.60" width="12.00" height="12.00" fill="#000000"/>
<rect x="203.76" y="529.80" width="12.00" height="12.00" fill="#000000"/>
<rect x="215.05" y="530.00" width="12.00" height="12.00" fill="#000000"/>
<rect x="226.33" y="530.20" width="12.00" height="12.00" fill="#000000"/>
<rect x="237.61" y="530.40" width="12.00" height="12.00" fill="#000000"/>
<rect x="248.90" y="530.60" width="12.00" height="12.00" fill="#000000"/>
<rect x="260.18" y="530.80" width="12.00" height="12.00" fill="#000000"/>
<rect x="271.46" y="530.83" width="12.00" height="12.00" fill="#000000"/>
<rect x="282.75" y="530.86" width="12.00" height="12.00" fill="#000000"/>
<rect x="294.03" y="530.89" width="12.00" height="12.00" fill="#000000"/>
<rect x="305.31" y="530.92" width="12.00" height="12.00" fill="#000000"/>
<rect x="316.59" y="530.95" width="12.00" height="12.00" fill="#000000"/>
<rect x="327.88" y="530.98" width="12.00" height="12.00" fill="#000000"/>
<rect x="339.16" y="531.01" width="12.00" height="12.00" fill="#000000"/>
<rect x="350.44" y="531.04" width="12.00" height="12.00" fill="#000000"/>
<rect x="361.73" y="531.06" width="12.00" height="12.00" fill="#000000"/>
<rect x="373.01" y="531.09" width="12.00" height="12.00" fill="#000000"/>
<rect x="384.29" y="531.12" width="12.00" height="12.00" fill="#000000"/>
<rect x="395.57" y="531.15" width="12.00" height="12.00" fill="#000000"/>
<rect x="406.86" y="531.18" width="12.00" height="12.00" fill="#000000"/>
<rect x="418.14" y="531.21" width="12.00" height="12.00" fill="#000000"/>
<rect x="429.42" y="531.24" width="12.00" height="12.00" fill="#000000"/>
<rect x="440.71" y="531.27" width="12.00" height="12.00" fill="#000000"/>
<rect x="451.99" y="531.30" width="12.00" height="12.00" fill="#000000"/>
<rect x="463.27" y="533.60" width="12.00" height="12.00" fill="#000000"/>
<rect x="474.56" y="533.60" width="12.00" height="12.00" fill="#000000"/>
<rect x="485.84" y="533.60" width="12.00" height="12.00" fill="#000000"/>
<rect x="497.12" y="533.60" width="12.00" height="12.00" fill="#000000"/>
<rect x="508.40" y="534.00" width="12.00" height="12.00" fill="#000000"/>
<rect x="519.69" y="534.00" width="12.00" height="12.00" fill="#000000"/>
<rect x="530.97" y="534.00" width="12.00" height="12.00" fill="#000000"/>
<rect x="542.25" y="534.00" width="12.00" height="12.00" fill="#000000"/>
<rect x="553.54" y="534.00" width="12.00" height="12.00" fill="#000000"/>
<rect x="564.82" y="534.00" width="12.00" height="12.00" fill="#000000"/>
<rect x="576.10" y="534.00" width="12.00" height="12.00" fill="#000000"/>
<rect x="587.39" y="534.00" width="12.00" height="12.00" fill="#000000"/>
<rect x="598.67" y="534.00" width="12.00" height="12.00" fill="#000000"/>
<rect x="609.95" y="534.00" width="12.00" height="12.00" fill="#000000"/>
<rect x="621.24" y="534.00" width="12.00" height="12.00" fill="#000000"/>
<rect x="632.52" y="534.00" width="12.00" height="12.00" fill="#000000"/>
<rect x="643.80" y="534.00" width="12.00" height="12.00" fill="#000000"/>
<rect x="655.08" y="534.00" width="12.00" height="12.00" fill="#000000"/>
<rect x="666.37" y="534.00" width="12.00" height="12.00" fill="#000000"/>
<rect x="677.65" y="536.00" width="12.00" height="12.00" fill="#000000"/>
<rect x="688.93" y="536.00" width="12.00" height="12.00" fill="#000000"/>
<rect x="700.22" y="534.00" width="12.00" height="12.00" fill="#000000"/>
<rect x="711.50" y="534.00" width="12.00" height="12.00" fill="#000000"/>
<rect x="722.78" y="534.00" width="12.00" height="12.00" fill="#000000"/>
<rect x="734.07" y="537.50" width="12.00" height="12.00" fill="#000000"/>
<rect x="745.35" y="536.00" width="12.00" height="12.00" fill="#000000"/>
<rect x="756.63" y="545.00" width="12.00" height="12.00" fill="#000000"/>
<rect x="767.91" y="545.00" width="12.00" height="12.00" fill="#000000"/>
<rect x="779.20" y="545.00" width="12.00" height="12.00" fill="#000000"/>
<rect x="790.48" y="536.00" width="12.00" height="12.00" fill="#000000"/>
<rect x="801.76" y="536.00" width="12.00" height="12.00" fill="#000000"/>
<rect x="813.05" y="536.00" width="12.00" height="12.00" fill="#000000"/>
<rect x="824.33" y="536.00" width="12.00" height="12.00" fill="#000000"/>
<rect x="846.89" y="536.30" width="12.00" height="12.00" fill="#000000"/>
<rect x="858.18" y="536.30" width="12.00" height="12.00" fill="#000000"/>
<rect x="869.46" y="536.30" width="12.00" height="12.00" fill="#000000"/>
<rect x="880.74" y="536.30" width="12.00" height="12.00" fill="#000000"/>
<rect x="892.03" y="536.30" width="12.00" height="12.00" fill="#000000"/>
<rect x="903.31" y="536.30" width="12.00" height="12.00" fill="#000000"/>
<rect x="914.59" y="536.30" width="12.00" height="12.00" fill="#000000"/>
<rect x="925.88" y="536.30" width="12.00" height="12.00" fill="#000000"/>
<rect x="937.16" y="536.30" width="12.00" height="12.00" fill="#000000"/>
<rect x="948.44" y="536.30" width="12.00" height="12.00" fill="#000000"/>
<rect x="959.73" y="536.30" width="12.00" height="12.00" fill="#000000"/>
<rect x="971.01" y="536.30" width="12.00" height="12.00" fill="#000000"/>
<rect x="982.29" y="536.30" width="12.00" height="12.00" fill="#000000"/>
<rect x="993.57" y="536.30" width="12.00" height="12.00" fill="#000000"/>
<rect x="1004.86" y="536.30" width="12.00" height="12.00" fill="#000000"/>
<rect x="1016.14" y="536.30" width="12.00" height="12.00" fill="#000000"/>
<rect x="1027.42" y="536.30" width="12.00" height="12.00" fill="#000000"/>
<rect x="1038.71" y="536.30" width="12.00" height="12.00" fill="#000000"/>
<rect x="1049.99" y="544.00" width="12.00" height="12.00" fill="#000000"/>
<rect x="1061.27" y="544.00" width="12.00" height="12.00" fill="#000000"/>
<rect x="1072.55" y="544.00" width="12.00" height="12.00" fill="#000000"/>
<rect x="1083.84" y="544.00" width="12.00" height="12.00" fill="#000000"/>
<rect x="1095.12" y="544.50" width="12.00" height="12.00" fill="#000000"/>
<rect x="1106.40" y="551.00" width="12.00" height="12.00" fill="#000000"/>
<rect x="1117.69" y="546.70" width="12.00" height="12.00" fill="#000000"/>
<rect x="1128.97" y="537.50" width="12.00" height="12.00" fill="#000000"/>
<rect x="1140.25" y="537.50" width="12.00" height="12.00" fill="#000000"/>
<rect x="1151.54" y="537.50" width="12.00" height="12.00" fill="#000000"/>
<rect x="1162.82" y="537.50" width="12.00" height="12.00" fill="#000000"/>
<rect x="1174.10" y="537.50" width="12.00" height="12.00" fill="#000000"/>
<rect x="1185.38" y="542.00" width="12.00" height="12.00" fill="#000000"/>
<rect x="1196.67" y="537.50" width="12.00" height="12.00" fill="#000000"/>
<rect x="1207.95" y="537.50" width="12.00" height="12.00" fill="#000000"/>
<rect x="1219.23" y="537.50" width="12.00" height="12.00" fill="#000000"/>
<rect x="1230.52" y="537.50" width="12.00" height="12.00" fill="#000000"/>
<rect x="1241.80" y="537.50" width="12.00" height="12.00" fill="#000000"/>
<circle cx="130.78" cy="525.50" r="6.90" fill="#e2001f"/>
<circle cx="142.07" cy="535.00" r="6.90" fill="#e2001f"/>
<circle cx="153.35" cy="541.00" r="6.90" fill="#e2001f"/>
<circle cx="164.63" cy="549.00" r="6.90" fill="#e2001f"/>
<circle cx="175.91" cy="559.40" r="6.90" fill="#e2001f"/>
<circle cx="187.20" cy="568.20" r="6.90" fill="#e2001f"/>
<circle cx="198.48" cy="583.50" r="6.90" fill="#e2001f"/>
<circle cx="209.76" cy="607.00" r="6.90" fill="#e2001f"/>
<circle cx="221.05" cy="627.00" r="6.90" fill="#e2001f"/>
<circle cx="232.33" cy="664.20" r="6.90" fill="#e2001f"/>
<circle cx="243.61" cy="689.60" r="6.90" fill="#e2001f"/>
<circle cx="254.90" cy="733.80" r="6.90" fill="#e2001f"/>
<circle cx="266.18" cy="770.40" r="6.90" fill="#e2001f"/>
<circle cx="277.46" cy="827.80" r="6.90" fill="#e2001f"/>
<circle cx="288.75" cy="864.40" r="6.90" fill="#e2001f"/>
<circle cx="300.03" cy="887.00" r="6.90" fill="#e2001f"/>
<circle cx="311.31" cy="900.50" r="6.90" fill="#e2001f"/>
<circle cx="322.59" cy="906.50" r="6.90" fill="#e2001f"/>
<circle cx="333.88" cy="910.00" r="6.90" fill="#e2001f"/>
<circle cx="345.16" cy="911.00" r="6.90" fill="#e2001f"/>
<circle cx="356.44" cy="911.50" r="6.90" fill="#e2001f"/>
<circle cx="367.73" cy="912.00" r="6.90" fill="#e2001f"/>
<circle cx="379.01" cy="912.50" r="6.90" fill="#e2001f"/>
<circle cx="390.29" cy="913.00" r="6.90" fill="#e2001f"/>
<circle cx="401.57" cy="913.00" r="6.90" fill="#e2001f"/>
<circle cx="412.86" cy="913.00" r="6.90" fill="#e2001f"/>
<circle cx="424.14" cy="913.00" r="6.90" fill="#e2001f"/>
<circle cx="435.42" cy="913.00" r="6.90" fill="#e2001f"/>
<circle cx="446.71" cy="913.00" r="6.90" fill="#e2001f"/>
<circle cx="457.99" cy="913.80" r="6.90" fill="#e2001f"/>
<rect x="125.98" y="509.25" width="9.60" height="9.60" fill="#fff" stroke="#3730a8" stroke-width="3.0"/>
<rect x="137.27" y="509.69" width="9.60" height="9.60" fill="#fff" stroke="#3730a8" stroke-width="3.0"/>
<rect x="148.55" y="510.12" width="9.60" height="9.60" fill="#fff" stroke="#3730a8" stroke-width="3.0"/>
<rect x="159.83" y="510.56" width="9.60" height="9.60" fill="#fff" stroke="#3730a8" stroke-width="3.0"/>
<rect x="171.11" y="511.00" width="9.60" height="9.60" fill="#fff" stroke="#3730a8" stroke-width="3.0"/>
<rect x="182.40" y="511.44" width="9.60" height="9.60" fill="#fff" stroke="#3730a8" stroke-width="3.0"/>
<rect x="193.68" y="511.87" width="9.60" height="9.60" fill="#fff" stroke="#3730a8" stroke-width="3.0"/>
<rect x="204.96" y="512.31" width="9.60" height="9.60" fill="#fff" stroke="#3730a8" stroke-width="3.0"/>
<rect x="216.25" y="512.75" width="9.60" height="9.60" fill="#fff" stroke="#3730a8" stroke-width="3.0"/>
<rect x="227.53" y="513.19" width="9.60" height="9.60" fill="#fff" stroke="#3730a8" stroke-width="3.0"/>
<rect x="238.81" y="513.62" width="9.60" height="9.60" fill="#fff" stroke="#3730a8" stroke-width="3.0"/>
<rect x="250.10" y="514.06" width="9.60" height="9.60" fill="#fff" stroke="#3730a8" stroke-width="3.0"/>
<rect x="261.38" y="514.50" width="9.60" height="9.60" fill="#fff" stroke="#3730a8" stroke-width="3.0"/>
<rect x="272.66" y="514.73" width="9.60" height="9.60" fill="#fff" stroke="#3730a8" stroke-width="3.0"/>
<rect x="283.94" y="514.96" width="9.60" height="9.60" fill="#fff" stroke="#3730a8" stroke-width="3.0"/>
<rect x="295.23" y="515.19" width="9.60" height="9.60" fill="#fff" stroke="#3730a8" stroke-width="3.0"/>
<rect x="306.51" y="515.41" width="9.60" height="9.60" fill="#fff" stroke="#3730a8" stroke-width="3.0"/>
<rect x="317.79" y="515.64" width="9.60" height="9.60" fill="#fff" stroke="#3730a8" stroke-width="3.0"/>
<rect x="329.08" y="515.87" width="9.60" height="9.60" fill="#fff" stroke="#3730a8" stroke-width="3.0"/>
<rect x="340.36" y="516.10" width="9.60" height="9.60" fill="#fff" stroke="#3730a8" stroke-width="3.0"/>
<rect x="351.64" y="516.29" width="9.60" height="9.60" fill="#fff" stroke="#3730a8" stroke-width="3.0"/>
<rect x="362.93" y="516.49" width="9.60" height="9.60" fill="#fff" stroke="#3730a8" stroke-width="3.0"/>
<rect x="374.21" y="516.68" width="9.60" height="9.60" fill="#fff" stroke="#3730a8" stroke-width="3.0"/>
<rect x="385.49" y="516.87" width="9.60" height="9.60" fill="#fff" stroke="#3730a8" stroke-width="3.0"/>
<rect x="396.77" y="517.06" width="9.60" height="9.60" fill="#fff" stroke="#3730a8" stroke-width="3.0"/>
<rect x="408.06" y="517.26" width="9.60" height="9.60" fill="#fff" stroke="#3730a8" stroke-width="3.0"/>
<rect x="419.34" y="517.45" width="9.60" height="9.60" fill="#fff" stroke="#3730a8" stroke-width="3.0"/>
<rect x="430.62" y="517.64" width="9.60" height="9.60" fill="#fff" stroke="#3730a8" stroke-width="3.0"/>
<rect x="441.91" y="517.84" width="9.60" height="9.60" fill="#fff" stroke="#3730a8" stroke-width="3.0"/>
<rect x="453.19" y="518.03" width="9.60" height="9.60" fill="#fff" stroke="#3730a8" stroke-width="3.0"/>
<rect x="464.47" y="518.22" width="9.60" height="9.60" fill="#fff" stroke="#3730a8" stroke-width="3.0"/>
<rect x="475.76" y="518.41" width="9.60" height="9.60" fill="#fff" stroke="#3730a8" stroke-width="3.0"/>
<rect x="487.04" y="518.61" width="9.60" height="9.60" fill="#fff" stroke="#3730a8" stroke-width="3.0"/>
<rect x="498.32" y="518.80" width="9.60" height="9.60" fill="#fff" stroke="#3730a8" stroke-width="3.0"/>
<rect x="509.60" y="518.99" width="9.60" height="9.60" fill="#fff" stroke="#3730a8" stroke-width="3.0"/>
<rect x="520.89" y="519.19" width="9.60" height="9.60" fill="#fff" stroke="#3730a8" stroke-width="3.0"/>
<rect x="532.17" y="519.38" width="9.60" height="9.60" fill="#fff" stroke="#3730a8" stroke-width="3.0"/>
<rect x="543.45" y="519.57" width="9.60" height="9.60" fill="#fff" stroke="#3730a8" stroke-width="3.0"/>
<rect x="554.74" y="519.76" width="9.60" height="9.60" fill="#fff" stroke="#3730a8" stroke-width="3.0"/>
<rect x="566.02" y="519.96" width="9.60" height="9.60" fill="#fff" stroke="#3730a8" stroke-width="3.0"/>
<rect x="577.30" y="520.15" width="9.60" height="9.60" fill="#fff" stroke="#3730a8" stroke-width="3.0"/>
<rect x="588.59" y="520.34" width="9.60" height="9.60" fill="#fff" stroke="#3730a8" stroke-width="3.0"/>
<rect x="599.87" y="520.54" width="9.60" height="9.60" fill="#fff" stroke="#3730a8" stroke-width="3.0"/>
<rect x="611.15" y="520.73" width="9.60" height="9.60" fill="#fff" stroke="#3730a8" stroke-width="3.0"/>
<rect x="622.44" y="520.92" width="9.60" height="9.60" fill="#fff" stroke="#3730a8" stroke-width="3.0"/>
<rect x="633.72" y="521.11" width="9.60" height="9.60" fill="#fff" stroke="#3730a8" stroke-width="3.0"/>
<rect x="645.00" y="521.31" width="9.60" height="9.60" fill="#fff" stroke="#3730a8" stroke-width="3.0"/>
<rect x="656.28" y="521.50" width="9.60" height="9.60" fill="#fff" stroke="#3730a8" stroke-width="3.0"/>
<rect x="667.57" y="521.58" width="9.60" height="9.60" fill="#fff" stroke="#3730a8" stroke-width="3.0"/>
<rect x="678.85" y="521.67" width="9.60" height="9.60" fill="#fff" stroke="#3730a8" stroke-width="3.0"/>
<rect x="690.13" y="521.75" width="9.60" height="9.60" fill="#fff" stroke="#3730a8" stroke-width="3.0"/>
<rect x="701.42" y="521.83" width="9.60" height="9.60" fill="#fff" stroke="#3730a8" stroke-width="3.0"/>
<rect x="712.70" y="521.92" width="9.60" height="9.60" fill="#fff" stroke="#3730a8" stroke-width="3.0"/>
<rect x="723.98" y="522.00" width="9.60" height="9.60" fill="#fff" stroke="#3730a8" stroke-width="3.0"/>
<rect x="735.27" y="522.08" width="9.60" height="9.60" fill="#fff" stroke="#3730a8" stroke-width="3.0"/>
<rect x="746.55" y="522.17" width="9.60" height="9.60" fill="#fff" stroke="#3730a8" stroke-width="3.0"/>
<rect x="757.83" y="522.25" width="9.60" height="9.60" fill="#fff" stroke="#3730a8" stroke-width="3.0"/>
<rect x="769.11" y="522.33" width="9.60" height="9.60" fill="#fff" stroke="#3730a8" stroke-width="3.0"/>
<rect x="780.40" y="522.42" width="9.60" height="9.60" fill="#fff" stroke="#3730a8" stroke-width="3.0"/>
<rect x="791.68" y="522.50" width="9.60" height="9.60" fill="#fff" stroke="#3730a8" stroke-width="3.0"/>
<rect x="802.96" y="522.74" width="9.60" height="9.60" fill="#fff" stroke="#3730a8" stroke-width="3.0"/>
<rect x="814.25" y="522.98" width="9.60" height="9.60" fill="#fff" stroke="#3730a8" stroke-width="3.0"/>
<rect x="825.53" y="523.22" width="9.60" height="9.60" fill="#fff" stroke="#3730a8" stroke-width="3.0"/>
<rect x="836.81" y="523.46" width="9.60" height="9.60" fill="#fff" stroke="#3730a8" stroke-width="3.0"/>
<rect x="848.10" y="523.70" width="9.60" height="9.60" fill="#fff" stroke="#3730a8" stroke-width="3.0"/>
<rect x="859.38" y="523.93" width="9.60" height="9.60" fill="#fff" stroke="#3730a8" stroke-width="3.0"/>
<rect x="870.66" y="524.17" width="9.60" height="9.60" fill="#fff" stroke="#3730a8" stroke-width="3.0"/>
<rect x="881.94" y="524.41" width="9.60" height="9.60" fill="#fff" stroke="#3730a8" stroke-width="3.0"/>
<rect x="893.23" y="524.65" width="9.60" height="9.60" fill="#fff" stroke="#3730a8" stroke-width="3.0"/>
<rect x="904.51" y="524.89" width="9.60" height="9.60" fill="#fff" stroke="#3730a8" stroke-width="3.0"/>
<rect x="915.79" y="525.13" width="9.60" height="9.60" fill="#fff" stroke="#3730a8" stroke-width="3.0"/>
<rect x="927.08" y="525.37" width="9.60" height="9.60" fill="#fff" stroke="#3730a8" stroke-width="3.0"/>
<rect x="938.36" y="525.61" width="9.60" height="9.60" fill="#fff" stroke="#3730a8" stroke-width="3.0"/>
<rect x="949.64" y="525.85" width="9.60" height="9.60" fill="#fff" stroke="#3730a8" stroke-width="3.0"/>
<rect x="960.93" y="526.09" width="9.60" height="9.60" fill="#fff" stroke="#3730a8" stroke-width="3.0"/>
<rect x="972.21" y="526.33" width="9.60" height="9.60" fill="#fff" stroke="#3730a8" stroke-width="3.0"/>
<rect x="983.49" y="526.57" width="9.60" height="9.60" fill="#fff" stroke="#3730a8" stroke-width="3.0"/>
<rect x="994.77" y="526.80" width="9.60" height="9.60" fill="#fff" stroke="#3730a8" stroke-width="3.0"/>
<rect x="1006.06" y="527.04" width="9.60" height="9.60" fill="#fff" stroke="#3730a8" stroke-width="3.0"/>
<rect x="1017.34" y="527.28" width="9.60" height="9.60" fill="#fff" stroke="#3730a8" stroke-width="3.0"/>
<rect x="1028.62" y="527.52" width="9.60" height="9.60" fill="#fff" stroke="#3730a8" stroke-width="3.0"/>
<rect x="1039.91" y="527.76" width="9.60" height="9.60" fill="#fff" stroke="#3730a8" stroke-width="3.0"/>
<rect x="1051.19" y="528.00" width="9.60" height="9.60" fill="#fff" stroke="#3730a8" stroke-width="3.0"/>
<rect x="1062.47" y="528.05" width="9.60" height="9.60" fill="#fff" stroke="#3730a8" stroke-width="3.0"/>
<rect x="1073.75" y="528.11" width="9.60" height="9.60" fill="#fff" stroke="#3730a8" stroke-width="3.0"/>
<rect x="1085.04" y="528.16" width="9.60" height="9.60" fill="#fff" stroke="#3730a8" stroke-width="3.0"/>
<rect x="1096.32" y="528.21" width="9.60" height="9.60" fill="#fff" stroke="#3730a8" stroke-width="3.0"/>
<rect x="1107.60" y="528.26" width="9.60" height="9.60" fill="#fff" stroke="#3730a8" stroke-width="3.0"/>
<rect x="1118.89" y="528.32" width="9.60" height="9.60" fill="#fff" stroke="#3730a8" stroke-width="3.0"/>
<rect x="1130.17" y="528.37" width="9.60" height="9.60" fill="#fff" stroke="#3730a8" stroke-width="3.0"/>
<rect x="1141.45" y="528.42" width="9.60" height="9.60" fill="#fff" stroke="#3730a8" stroke-width="3.0"/>
<rect x="1152.74" y="528.48" width="9.60" height="9.60" fill="#fff" stroke="#3730a8" stroke-width="3.0"/>
<rect x="1164.02" y="528.53" width="9.60" height="9.60" fill="#fff" stroke="#3730a8" stroke-width="3.0"/>
<rect x="1175.30" y="528.58" width="9.60" height="9.60" fill="#fff" stroke="#3730a8" stroke-width="3.0"/>
<rect x="1186.59" y="528.64" width="9.60" height="9.60" fill="#fff" stroke="#3730a8" stroke-width="3.0"/>
<rect x="1197.87" y="528.69" width="9.60" height="9.60" fill="#fff" stroke="#3730a8" stroke-width="3.0"/>
<rect x="1209.15" y="528.74" width="9.60" height="9.60" fill="#fff" stroke="#3730a8" stroke-width="3.0"/>
<rect x="1220.43" y="528.79" width="9.60" height="9.60" fill="#fff" stroke="#3730a8" stroke-width="3.0"/>
<rect x="1231.72" y="528.85" width="9.60" height="9.60" fill="#fff" stroke="#3730a8" stroke-width="3.0"/>
<rect x="1243.00" y="528.90" width="9.60" height="9.60" fill="#fff" stroke="#3730a8" stroke-width="3.0"/>
<circle cx="142.07" cy="542.60" r="5.10" fill="#fff" stroke="#688e7b" stroke-width="3.6"/>
<circle cx="153.35" cy="545.20" r="5.10" fill="#fff" stroke="#688e7b" stroke-width="3.6"/>
<circle cx="164.63" cy="549.30" r="5.10" fill="#fff" stroke="#688e7b" stroke-width="3.6"/>
<circle cx="175.91" cy="552.50" r="5.10" fill="#fff" stroke="#688e7b" stroke-width="3.6"/>
<circle cx="187.20" cy="555.00" r="5.10" fill="#fff" stroke="#688e7b" stroke-width="3.6"/>
<circle cx="198.48" cy="558.60" r="5.10" fill="#fff" stroke="#688e7b" stroke-width="3.6"/>
<circle cx="209.76" cy="562.80" r="5.10" fill="#fff" stroke="#688e7b" stroke-width="3.6"/>
<circle cx="221.05" cy="567.50" r="5.10" fill="#fff" stroke="#688e7b" stroke-width="3.6"/>
<circle cx="232.33" cy="573.20" r="5.10" fill="#fff" stroke="#688e7b" stroke-width="3.6"/>
<circle cx="243.61" cy="583.20" r="5.10" fill="#fff" stroke="#688e7b" stroke-width="3.6"/>
<circle cx="254.90" cy="592.30" r="5.10" fill="#fff" stroke="#688e7b" stroke-width="3.6"/>
<circle cx="266.18" cy="605.00" r="5.10" fill="#fff" stroke="#688e7b" stroke-width="3.6"/>
<circle cx="277.46" cy="619.30" r="5.10" fill="#fff" stroke="#688e7b" stroke-width="3.6"/>
<circle cx="288.75" cy="637.40" r="5.10" fill="#fff" stroke="#688e7b" stroke-width="3.6"/>
<circle cx="300.03" cy="655.90" r="5.10" fill="#fff" stroke="#688e7b" stroke-width="3.6"/>
<circle cx="311.31" cy="678.50" r="5.10" fill="#fff" stroke="#688e7b" stroke-width="3.6"/>
<circle cx="322.59" cy="702.50" r="5.10" fill="#fff" stroke="#688e7b" stroke-width="3.6"/>
<circle cx="333.88" cy="723.40" r="5.10" fill="#fff" stroke="#688e7b" stroke-width="3.6"/>
<circle cx="345.16" cy="752.30" r="5.10" fill="#fff" stroke="#688e7b" stroke-width="3.6"/>
<circle cx="356.44" cy="780.80" r="5.10" fill="#fff" stroke="#688e7b" stroke-width="3.6"/>
<circle cx="367.73" cy="808.00" r="5.10" fill="#fff" stroke="#688e7b" stroke-width="3.6"/>
<circle cx="379.01" cy="833.40" r="5.10" fill="#fff" stroke="#688e7b" stroke-width="3.6"/>
<circle cx="390.29" cy="857.40" r="5.10" fill="#fff" stroke="#688e7b" stroke-width="3.6"/>
<circle cx="401.57" cy="875.10" r="5.10" fill="#fff" stroke="#688e7b" stroke-width="3.6"/>
<circle cx="412.86" cy="888.00" r="5.10" fill="#fff" stroke="#688e7b" stroke-width="3.6"/>
<circle cx="424.14" cy="896.50" r="5.10" fill="#fff" stroke="#688e7b" stroke-width="3.6"/>
<circle cx="435.42" cy="902.50" r="5.10" fill="#fff" stroke="#688e7b" stroke-width="3.6"/>
<circle cx="446.71" cy="909.50" r="5.10" fill="#fff" stroke="#688e7b" stroke-width="3.6"/>
<circle cx="457.99" cy="912.00" r="5.10" fill="#fff" stroke="#688e7b" stroke-width="3.6"/>
<circle cx="469.27" cy="913.00" r="5.10" fill="#fff" stroke="#688e7b" stroke-width="3.6"/>
<circle cx="480.56" cy="913.00" r="5.10" fill="#fff" stroke="#688e7b" stroke-width="3.6"/>
<circle cx="491.84" cy="911.30" r="5.10" fill="#fff" stroke="#688e7b" stroke-width="3.6"/>
<circle cx="503.12" cy="913.20" r="5.10" fill="#fff" stroke="#688e7b" stroke-width="3.6"/>
<circle cx="514.40" cy="913.20" r="5.10" fill="#fff" stroke="#688e7b" stroke-width="3.6"/>
<circle cx="525.69" cy="913.32" r="5.10" fill="#fff" stroke="#688e7b" stroke-width="3.6"/>
<circle cx="536.97" cy="913.44" r="5.10" fill="#fff" stroke="#688e7b" stroke-width="3.6"/>
<circle cx="548.25" cy="913.56" r="5.10" fill="#fff" stroke="#688e7b" stroke-width="3.6"/>
<circle cx="559.54" cy="913.68" r="5.10" fill="#fff" stroke="#688e7b" stroke-width="3.6"/>
<circle cx="570.82" cy="912.30" r="5.10" fill="#fff" stroke="#688e7b" stroke-width="3.6"/>
<circle cx="582.10" cy="913.92" r="5.10" fill="#fff" stroke="#688e7b" stroke-width="3.6"/>
<circle cx="593.39" cy="914.04" r="5.10" fill="#fff" stroke="#688e7b" stroke-width="3.6"/>
<circle cx="604.67" cy="914.16" r="5.10" fill="#fff" stroke="#688e7b" stroke-width="3.6"/>
<circle cx="615.95" cy="914.28" r="5.10" fill="#fff" stroke="#688e7b" stroke-width="3.6"/>
<circle cx="627.24" cy="914.40" r="5.10" fill="#fff" stroke="#688e7b" stroke-width="3.6"/>
<circle cx="638.52" cy="914.52" r="5.10" fill="#fff" stroke="#688e7b" stroke-width="3.6"/>
<circle cx="649.80" cy="914.64" r="5.10" fill="#fff" stroke="#688e7b" stroke-width="3.6"/>
<circle cx="661.08" cy="914.76" r="5.10" fill="#fff" stroke="#688e7b" stroke-width="3.6"/>
<circle cx="672.37" cy="914.88" r="5.10" fill="#fff" stroke="#688e7b" stroke-width="3.6"/>
<polygon points="126.78,530.65 130.78,530.65 142.07,530.85 153.35,531.05 164.63,531.25 175.91,531.45 187.20,531.65 198.48,531.85 209.76,532.05 221.05,532.25 232.33,532.45 243.61,532.65 254.90,532.85 266.18,533.05 277.46,533.11 288.75,533.17 300.03,533.22 311.31,533.28 322.59,533.34 333.88,533.40 345.16,533.45 356.44,533.51 367.73,533.57 379.01,533.63 390.29,533.68 401.57,533.74 412.86,533.80 424.14,533.80 435.42,533.80 446.71,533.80 457.99,533.80 469.27,533.80 480.56,532.55 491.84,532.55 503.12,532.55 514.40,532.05 525.69,532.05 536.97,532.05 548.25,532.05 559.54,532.05 570.82,532.05 582.10,531.80 593.39,531.55 604.67,531.30 615.95,531.05 627.24,530.80 638.52,530.55 642.52,530.55 642.52,540.15 638.52,540.15 627.24,540.40 615.95,540.65 604.67,540.90 593.39,541.15 582.10,541.40 570.82,541.65 559.54,541.65 548.25,541.65 536.97,541.65 525.69,541.65 514.40,541.65 503.12,542.15 491.84,542.15 480.56,542.15 469.27,543.40 457.99,543.40 446.71,543.40 435.42,543.40 424.14,543.40 412.86,543.40 401.57,543.34 390.29,543.28 379.01,543.23 367.73,543.17 356.44,543.11 345.16,543.05 333.88,543.00 322.59,542.94 311.31,542.88 300.03,542.82 288.75,542.77 277.46,542.71 266.18,542.65 254.90,542.45 243.61,542.25 232.33,542.05 221.05,541.85 209.76,541.65 198.48,541.45 187.20,541.25 175.91,541.05 164.63,540.85 153.35,540.65 142.07,540.45 130.78,540.25 126.78,540.25" fill="#f3ae22"/>

<polygon points="657.08,527.95 661.08,527.95 672.37,527.95 683.65,527.95 694.93,527.95 706.22,527.95 717.50,527.95 728.78,527.95 740.07,527.95 744.07,527.95 744.07,537.55 740.07,537.55 728.78,537.55 717.50,537.55 706.22,537.55 694.93,537.55 683.65,537.55 672.37,537.55 661.08,537.55 657.08,537.55" fill="#f3ae22"/>
<polygon points="747.35,535.65 751.35,535.65 762.63,535.65 773.91,535.65 785.20,535.65 796.48,534.05 807.76,533.05 811.76,533.05 811.76,542.65 807.76,542.65 796.48,543.65 785.20,545.25 773.91,545.25 762.63,545.25 751.35,545.25 747.35,545.25" fill="#f3ae22"/>
<polygon points="815.05,528.45 819.05,528.45 830.33,528.45 841.61,528.45 852.89,528.45 864.18,528.45 875.46,528.45 886.74,528.45 898.03,528.45 909.31,528.45 920.59,528.45 931.88,528.45 943.16,528.45 954.44,528.45 965.73,528.45 977.01,528.45 988.29,528.45 992.29,528.45 992.29,538.05 988.29,538.05 977.01,538.05 965.73,538.05 954.44,538.05 943.16,538.05 931.88,538.05 920.59,538.05 909.31,538.05 898.03,538.05 886.74,538.05 875.46,538.05 864.18,538.05 852.89,538.05 841.61,538.05 830.33,538.05 819.05,538.05 815.05,538.05" fill="#f3ae22"/>
<polygon points="995.57,533.80 999.57,533.80 1010.86,531.05 1022.14,533.05 1033.42,533.05 1044.71,533.05 1048.71,533.05 1048.71,542.65 1044.71,542.65 1033.42,542.65 1022.14,542.65 1010.86,540.65 999.57,543.40 995.57,543.40" fill="#f3ae22"/>
<polygon points="1051.99,547.55 1055.99,547.55 1067.27,547.55 1078.55,547.55 1089.84,547.55 1101.12,547.55 1112.40,547.55 1116.40,547.55 1116.40,557.15 1112.40,557.15 1101.12,557.15 1089.84,557.15 1078.55,557.15 1067.27,557.15 1055.99,557.15 1051.99,557.15" fill="#f3ae22"/>
<polygon points="1119.69,539.05 1123.69,539.05 1134.97,538.55 1146.25,538.75 1157.54,538.95 1168.82,539.15 1180.10,539.35 1191.38,539.55 1202.67,539.75 1213.95,539.95 1225.23,540.15 1236.52,540.35 1247.80,540.55 1251.80,540.55 1251.80,550.15 1247.80,550.15 1236.52,549.95 1225.23,549.75 1213.95,549.55 1202.67,549.35 1191.38,549.15 1180.10,548.95 1168.82,548.75 1157.54,548.55 1146.25,548.35 1134.97,548.15 1123.69,548.65 1119.69,548.65" fill="#f3ae22"/>
<rect x="127.38" y="527.35" width="6.8" height="4.0" fill="#f3ae22"/>
<rect x="138.67" y="527.55" width="6.8" height="4.0" fill="#f3ae22"/>
<rect x="149.95" y="527.75" width="6.8" height="4.0" fill="#f3ae22"/>
<rect x="161.23" y="527.95" width="6.8" height="4.0" fill="#f3ae22"/>
<rect x="172.51" y="528.15" width="6.8" height="4.0" fill="#f3ae22"/>
<rect x="183.80" y="528.35" width="6.8" height="4.0" fill="#f3ae22"/>
<rect x="195.08" y="528.55" width="6.8" height="4.0" fill="#f3ae22"/>
<rect x="206.36" y="528.75" width="6.8" height="4.0" fill="#f3ae22"/>
<rect x="217.65" y="528.95" width="6.8" height="4.0" fill="#f3ae22"/>
<rect x="228.93" y="529.15" width="6.8" height="4.0" fill="#f3ae22"/>
<rect x="240.21" y="529.35" width="6.8" height="4.0" fill="#f3ae22"/>
<rect x="251.50" y="529.55" width="6.8" height="4.0" fill="#f3ae22"/>
<rect x="262.78" y="529.75" width="6.8" height="4.0" fill="#f3ae22"/>
<rect x="274.06" y="529.81" width="6.8" height="4.0" fill="#f3ae22"/>
<rect x="285.35" y="529.87" width="6.8" height="4.0" fill="#f3ae22"/>
<rect x="296.63" y="529.92" width="6.8" height="4.0" fill="#f3ae22"/>
<rect x="307.91" y="529.98" width="6.8" height="4.0" fill="#f3ae22"/>
<rect x="319.19" y="530.04" width="6.8" height="4.0" fill="#f3ae22"/>
<rect x="330.48" y="530.10" width="6.8" height="4.0" fill="#f3ae22"/>
<rect x="341.76" y="530.15" width="6.8" height="4.0" fill="#f3ae22"/>
<rect x="353.04" y="530.21" width="6.8" height="4.0" fill="#f3ae22"/>
<rect x="364.33" y="530.27" width="6.8" height="4.0" fill="#f3ae22"/>
<rect x="375.61" y="530.33" width="6.8" height="4.0" fill="#f3ae22"/>
<rect x="386.89" y="530.38" width="6.8" height="4.0" fill="#f3ae22"/>
<rect x="398.18" y="530.44" width="6.8" height="4.0" fill="#f3ae22"/>
<rect x="409.46" y="530.50" width="6.8" height="4.0" fill="#f3ae22"/>
<rect x="420.74" y="530.50" width="6.8" height="4.0" fill="#f3ae22"/>
<rect x="432.02" y="530.50" width="6.8" height="4.0" fill="#f3ae22"/>
<rect x="443.31" y="530.50" width="6.8" height="4.0" fill="#f3ae22"/>
<rect x="454.59" y="530.50" width="6.8" height="4.0" fill="#f3ae22"/>
<rect x="465.87" y="530.50" width="6.8" height="4.0" fill="#f3ae22"/>
<rect x="477.16" y="529.25" width="6.8" height="4.0" fill="#f3ae22"/>
<rect x="488.44" y="529.25" width="6.8" height="4.0" fill="#f3ae22"/>
<rect x="499.72" y="529.25" width="6.8" height="4.0" fill="#f3ae22"/>
<rect x="511.00" y="528.75" width="6.8" height="4.0" fill="#f3ae22"/>
<rect x="522.29" y="528.75" width="6.8" height="4.0" fill="#f3ae22"/>
<rect x="533.57" y="528.75" width="6.8" height="4.0" fill="#f3ae22"/>
<rect x="544.85" y="528.75" width="6.8" height="4.0" fill="#f3ae22"/>
<rect x="556.14" y="528.75" width="6.8" height="4.0" fill="#f3ae22"/>
<rect x="567.42" y="528.75" width="6.8" height="4.0" fill="#f3ae22"/>
<rect x="578.70" y="528.50" width="6.8" height="4.0" fill="#f3ae22"/>
<rect x="589.99" y="528.25" width="6.8" height="4.0" fill="#f3ae22"/>
<rect x="601.27" y="528.00" width="6.8" height="4.0" fill="#f3ae22"/>
<rect x="612.55" y="527.75" width="6.8" height="4.0" fill="#f3ae22"/>
<rect x="623.84" y="527.50" width="6.8" height="4.0" fill="#f3ae22"/>
<rect x="635.12" y="527.25" width="6.8" height="4.0" fill="#f3ae22"/>
<rect x="646.40" y="533.75" width="6.8" height="4.0" fill="#f3ae22"/>
<rect x="657.68" y="524.65" width="6.8" height="4.0" fill="#f3ae22"/>
<rect x="668.97" y="524.65" width="6.8" height="4.0" fill="#f3ae22"/>
<rect x="680.25" y="524.65" width="6.8" height="4.0" fill="#f3ae22"/>
<rect x="691.53" y="524.65" width="6.8" height="4.0" fill="#f3ae22"/>
<rect x="702.82" y="524.65" width="6.8" height="4.0" fill="#f3ae22"/>
<rect x="714.10" y="524.65" width="6.8" height="4.0" fill="#f3ae22"/>
<rect x="725.38" y="524.65" width="6.8" height="4.0" fill="#f3ae22"/>
<rect x="736.67" y="524.65" width="6.8" height="4.0" fill="#f3ae22"/>
<rect x="747.95" y="532.35" width="6.8" height="4.0" fill="#f3ae22"/>
<rect x="759.23" y="532.35" width="6.8" height="4.0" fill="#f3ae22"/>
<rect x="770.51" y="532.35" width="6.8" height="4.0" fill="#f3ae22"/>
<rect x="781.80" y="532.35" width="6.8" height="4.0" fill="#f3ae22"/>
<rect x="793.08" y="530.75" width="6.8" height="4.0" fill="#f3ae22"/>
<rect x="804.36" y="529.75" width="6.8" height="4.0" fill="#f3ae22"/>
<rect x="815.65" y="525.15" width="6.8" height="4.0" fill="#f3ae22"/>
<rect x="826.93" y="525.15" width="6.8" height="4.0" fill="#f3ae22"/>
<rect x="838.21" y="525.15" width="6.8" height="4.0" fill="#f3ae22"/>
<rect x="849.50" y="525.15" width="6.8" height="4.0" fill="#f3ae22"/>
<rect x="860.78" y="525.15" width="6.8" height="4.0" fill="#f3ae22"/>
<rect x="872.06" y="525.15" width="6.8" height="4.0" fill="#f3ae22"/>
<rect x="883.34" y="525.15" width="6.8" height="4.0" fill="#f3ae22"/>
<rect x="894.63" y="525.15" width="6.8" height="4.0" fill="#f3ae22"/>
<rect x="905.91" y="525.15" width="6.8" height="4.0" fill="#f3ae22"/>
<rect x="917.19" y="525.15" width="6.8" height="4.0" fill="#f3ae22"/>
<rect x="928.48" y="525.15" width="6.8" height="4.0" fill="#f3ae22"/>
<rect x="939.76" y="525.15" width="6.8" height="4.0" fill="#f3ae22"/>
<rect x="951.04" y="525.15" width="6.8" height="4.0" fill="#f3ae22"/>
<rect x="962.33" y="525.15" width="6.8" height="4.0" fill="#f3ae22"/>
<rect x="973.61" y="525.15" width="6.8" height="4.0" fill="#f3ae22"/>
<rect x="984.89" y="525.15" width="6.8" height="4.0" fill="#f3ae22"/>
<rect x="996.17" y="530.50" width="6.8" height="4.0" fill="#f3ae22"/>
<rect x="1007.46" y="527.75" width="6.8" height="4.0" fill="#f3ae22"/>
<rect x="1018.74" y="529.75" width="6.8" height="4.0" fill="#f3ae22"/>
<rect x="1030.02" y="529.75" width="6.8" height="4.0" fill="#f3ae22"/>
<rect x="1041.31" y="529.75" width="6.8" height="4.0" fill="#f3ae22"/>
<rect x="1052.59" y="544.25" width="6.8" height="4.0" fill="#f3ae22"/>
<rect x="1063.87" y="544.25" width="6.8" height="4.0" fill="#f3ae22"/>
<rect x="1075.15" y="544.25" width="6.8" height="4.0" fill="#f3ae22"/>
<rect x="1086.44" y="544.25" width="6.8" height="4.0" fill="#f3ae22"/>
<rect x="1097.72" y="544.25" width="6.8" height="4.0" fill="#f3ae22"/>
<rect x="1109.00" y="544.25" width="6.8" height="4.0" fill="#f3ae22"/>
<rect x="1120.29" y="535.75" width="6.8" height="4.0" fill="#f3ae22"/>
<rect x="1131.57" y="535.25" width="6.8" height="4.0" fill="#f3ae22"/>
<rect x="1142.85" y="535.45" width="6.8" height="4.0" fill="#f3ae22"/>
<rect x="1154.14" y="535.65" width="6.8" height="4.0" fill="#f3ae22"/>
<rect x="1165.42" y="535.85" width="6.8" height="4.0" fill="#f3ae22"/>
<rect x="1176.70" y="536.05" width="6.8" height="4.0" fill="#f3ae22"/>
<rect x="1187.98" y="536.25" width="6.8" height="4.0" fill="#f3ae22"/>
<rect x="1199.27" y="536.45" width="6.8" height="4.0" fill="#f3ae22"/>
<rect x="1210.55" y="536.65" width="6.8" height="4.0" fill="#f3ae22"/>
<rect x="1221.83" y="536.85" width="6.8" height="4.0" fill="#f3ae22"/>
<rect x="1233.12" y="537.05" width="6.8" height="4.0" fill="#f3ae22"/>
<rect x="1244.40" y="537.25" width="6.8" height="4.0" fill="#f3ae22"/>
<polygon points="124.03,539.25 137.54,539.25 130.78,527.73" fill="#fff" stroke="#f3ae22" stroke-width="2.0" stroke-linejoin="miter"/>
<polygon points="135.31,539.45 148.82,539.45 142.07,527.93" fill="#fff" stroke="#f3ae22" stroke-width="2.0" stroke-linejoin="miter"/>
<polygon points="146.59,539.65 160.10,539.65 153.35,528.13" fill="#fff" stroke="#f3ae22" stroke-width="2.0" stroke-linejoin="miter"/>
<polygon points="157.88,539.85 171.39,539.85 164.63,528.33" fill="#fff" stroke="#f3ae22" stroke-width="2.0" stroke-linejoin="miter"/>
<polygon points="169.16,540.05 182.67,540.05 175.91,528.53" fill="#fff" stroke="#f3ae22" stroke-width="2.0" stroke-linejoin="miter"/>
<polygon points="180.44,540.25 193.95,540.25 187.20,528.73" fill="#fff" stroke="#f3ae22" stroke-width="2.0" stroke-linejoin="miter"/>
<polygon points="191.73,540.45 205.24,540.45 198.48,528.93" fill="#fff" stroke="#f3ae22" stroke-width="2.0" stroke-linejoin="miter"/>
<polygon points="203.01,540.65 216.52,540.65 209.76,529.13" fill="#fff" stroke="#f3ae22" stroke-width="2.0" stroke-linejoin="miter"/>
<polygon points="214.29,540.85 227.80,540.85 221.05,529.33" fill="#fff" stroke="#f3ae22" stroke-width="2.0" stroke-linejoin="miter"/>
<polygon points="225.58,541.05 239.08,541.05 232.33,529.53" fill="#fff" stroke="#f3ae22" stroke-width="2.0" stroke-linejoin="miter"/>
<polygon points="236.86,541.25 250.37,541.25 243.61,529.73" fill="#fff" stroke="#f3ae22" stroke-width="2.0" stroke-linejoin="miter"/>
<polygon points="248.14,541.45 261.65,541.45 254.90,529.93" fill="#fff" stroke="#f3ae22" stroke-width="2.0" stroke-linejoin="miter"/>
<polygon points="259.42,541.65 272.93,541.65 266.18,530.13" fill="#fff" stroke="#f3ae22" stroke-width="2.0" stroke-linejoin="miter"/>
<polygon points="270.71,541.71 284.22,541.71 277.46,530.19" fill="#fff" stroke="#f3ae22" stroke-width="2.0" stroke-linejoin="miter"/>
<polygon points="281.99,541.77 295.50,541.77 288.75,530.24" fill="#fff" stroke="#f3ae22" stroke-width="2.0" stroke-linejoin="miter"/>
<polygon points="293.27,541.82 306.78,541.82 300.03,530.30" fill="#fff" stroke="#f3ae22" stroke-width="2.0" stroke-linejoin="miter"/>
<polygon points="304.56,541.88 318.07,541.88 311.31,530.36" fill="#fff" stroke="#f3ae22" stroke-width="2.0" stroke-linejoin="miter"/>
<polygon points="315.84,541.94 329.35,541.94 322.59,530.42" fill="#fff" stroke="#f3ae22" stroke-width="2.0" stroke-linejoin="miter"/>
<polygon points="327.12,542.00 340.63,542.00 333.88,530.47" fill="#fff" stroke="#f3ae22" stroke-width="2.0" stroke-linejoin="miter"/>
<polygon points="338.41,542.05 351.91,542.05 345.16,530.53" fill="#fff" stroke="#f3ae22" stroke-width="2.0" stroke-linejoin="miter"/>
<polygon points="349.69,542.11 363.20,542.11 356.44,530.59" fill="#fff" stroke="#f3ae22" stroke-width="2.0" stroke-linejoin="miter"/>
<polygon points="360.97,542.17 374.48,542.17 367.73,530.65" fill="#fff" stroke="#f3ae22" stroke-width="2.0" stroke-linejoin="miter"/>
<polygon points="372.25,542.23 385.76,542.23 379.01,530.70" fill="#fff" stroke="#f3ae22" stroke-width="2.0" stroke-linejoin="miter"/>
<polygon points="383.54,542.28 397.05,542.28 390.29,530.76" fill="#fff" stroke="#f3ae22" stroke-width="2.0" stroke-linejoin="miter"/>
<polygon points="394.82,542.34 408.33,542.34 401.57,530.82" fill="#fff" stroke="#f3ae22" stroke-width="2.0" stroke-linejoin="miter"/>
<polygon points="406.10,542.40 419.61,542.40 412.86,530.88" fill="#fff" stroke="#f3ae22" stroke-width="2.0" stroke-linejoin="miter"/>
<polygon points="417.39,542.40 430.90,542.40 424.14,530.88" fill="#fff" stroke="#f3ae22" stroke-width="2.0" stroke-linejoin="miter"/>
<polygon points="428.67,542.40 442.18,542.40 435.42,530.88" fill="#fff" stroke="#f3ae22" stroke-width="2.0" stroke-linejoin="miter"/>
<polygon points="439.95,542.40 453.46,542.40 446.71,530.88" fill="#fff" stroke="#f3ae22" stroke-width="2.0" stroke-linejoin="miter"/>
<polygon points="451.24,542.40 464.74,542.40 457.99,530.88" fill="#fff" stroke="#f3ae22" stroke-width="2.0" stroke-linejoin="miter"/>
<polygon points="462.52,542.40 476.03,542.40 469.27,530.88" fill="#fff" stroke="#f3ae22" stroke-width="2.0" stroke-linejoin="miter"/>
<polygon points="473.80,541.15 487.31,541.15 480.56,529.63" fill="#fff" stroke="#f3ae22" stroke-width="2.0" stroke-linejoin="miter"/>
<polygon points="485.08,541.15 498.59,541.15 491.84,529.63" fill="#fff" stroke="#f3ae22" stroke-width="2.0" stroke-linejoin="miter"/>
<polygon points="496.37,541.15 509.88,541.15 503.12,529.63" fill="#fff" stroke="#f3ae22" stroke-width="2.0" stroke-linejoin="miter"/>
<polygon points="507.65,540.65 521.16,540.65 514.40,529.13" fill="#fff" stroke="#f3ae22" stroke-width="2.0" stroke-linejoin="miter"/>
<polygon points="518.93,540.65 532.44,540.65 525.69,529.13" fill="#fff" stroke="#f3ae22" stroke-width="2.0" stroke-linejoin="miter"/>
<polygon points="530.22,540.65 543.73,540.65 536.97,529.13" fill="#fff" stroke="#f3ae22" stroke-width="2.0" stroke-linejoin="miter"/>
<polygon points="541.50,540.65 555.01,540.65 548.25,529.13" fill="#fff" stroke="#f3ae22" stroke-width="2.0" stroke-linejoin="miter"/>
<polygon points="552.78,540.65 566.29,540.65 559.54,529.13" fill="#fff" stroke="#f3ae22" stroke-width="2.0" stroke-linejoin="miter"/>
<polygon points="564.07,540.65 577.57,540.65 570.82,529.13" fill="#fff" stroke="#f3ae22" stroke-width="2.0" stroke-linejoin="miter"/>
<polygon points="575.35,540.40 588.86,540.40 582.10,528.88" fill="#fff" stroke="#f3ae22" stroke-width="2.0" stroke-linejoin="miter"/>
<polygon points="586.63,540.15 600.14,540.15 593.39,528.63" fill="#fff" stroke="#f3ae22" stroke-width="2.0" stroke-linejoin="miter"/>
<polygon points="597.91,539.90 611.42,539.90 604.67,528.38" fill="#fff" stroke="#f3ae22" stroke-width="2.0" stroke-linejoin="miter"/>
<polygon points="609.20,539.65 622.71,539.65 615.95,528.13" fill="#fff" stroke="#f3ae22" stroke-width="2.0" stroke-linejoin="miter"/>
<polygon points="620.48,539.40 633.99,539.40 627.24,527.88" fill="#fff" stroke="#f3ae22" stroke-width="2.0" stroke-linejoin="miter"/>
<polygon points="631.76,539.15 645.27,539.15 638.52,527.63" fill="#fff" stroke="#f3ae22" stroke-width="2.0" stroke-linejoin="miter"/>
<polygon points="643.05,545.65 656.56,545.65 649.80,534.13" fill="#fff" stroke="#f3ae22" stroke-width="2.0" stroke-linejoin="miter"/>
<polygon points="654.33,536.55 667.84,536.55 661.08,525.03" fill="#fff" stroke="#f3ae22" stroke-width="2.0" stroke-linejoin="miter"/>
<polygon points="665.61,536.55 679.12,536.55 672.37,525.03" fill="#fff" stroke="#f3ae22" stroke-width="2.0" stroke-linejoin="miter"/>
<polygon points="676.90,536.55 690.40,536.55 683.65,525.03" fill="#fff" stroke="#f3ae22" stroke-width="2.0" stroke-linejoin="miter"/>
<polygon points="688.18,536.55 701.69,536.55 694.93,525.03" fill="#fff" stroke="#f3ae22" stroke-width="2.0" stroke-linejoin="miter"/>
<polygon points="699.46,536.55 712.97,536.55 706.22,525.03" fill="#fff" stroke="#f3ae22" stroke-width="2.0" stroke-linejoin="miter"/>
<polygon points="710.74,536.55 724.25,536.55 717.50,525.03" fill="#fff" stroke="#f3ae22" stroke-width="2.0" stroke-linejoin="miter"/>
<polygon points="722.03,536.55 735.54,536.55 728.78,525.03" fill="#fff" stroke="#f3ae22" stroke-width="2.0" stroke-linejoin="miter"/>
<polygon points="733.31,536.55 746.82,536.55 740.07,525.03" fill="#fff" stroke="#f3ae22" stroke-width="2.0" stroke-linejoin="miter"/>
<polygon points="744.59,544.25 758.10,544.25 751.35,532.73" fill="#fff" stroke="#f3ae22" stroke-width="2.0" stroke-linejoin="miter"/>
<polygon points="755.88,544.25 769.39,544.25 762.63,532.73" fill="#fff" stroke="#f3ae22" stroke-width="2.0" stroke-linejoin="miter"/>
<polygon points="767.16,544.25 780.67,544.25 773.91,532.73" fill="#fff" stroke="#f3ae22" stroke-width="2.0" stroke-linejoin="miter"/>
<polygon points="778.44,544.25 791.95,544.25 785.20,532.73" fill="#fff" stroke="#f3ae22" stroke-width="2.0" stroke-linejoin="miter"/>
<polygon points="789.73,542.65 803.23,542.65 796.48,531.13" fill="#fff" stroke="#f3ae22" stroke-width="2.0" stroke-linejoin="miter"/>
<polygon points="801.01,541.65 814.52,541.65 807.76,530.13" fill="#fff" stroke="#f3ae22" stroke-width="2.0" stroke-linejoin="miter"/>
<polygon points="812.29,537.05 825.80,537.05 819.05,525.53" fill="#fff" stroke="#f3ae22" stroke-width="2.0" stroke-linejoin="miter"/>
<polygon points="823.57,537.05 837.08,537.05 830.33,525.53" fill="#fff" stroke="#f3ae22" stroke-width="2.0" stroke-linejoin="miter"/>
<polygon points="834.86,537.05 848.37,537.05 841.61,525.53" fill="#fff" stroke="#f3ae22" stroke-width="2.0" stroke-linejoin="miter"/>
<polygon points="846.14,537.05 859.65,537.05 852.89,525.53" fill="#fff" stroke="#f3ae22" stroke-width="2.0" stroke-linejoin="miter"/>
<polygon points="857.42,537.05 870.93,537.05 864.18,525.53" fill="#fff" stroke="#f3ae22" stroke-width="2.0" stroke-linejoin="miter"/>
<polygon points="868.71,537.05 882.22,537.05 875.46,525.53" fill="#fff" stroke="#f3ae22" stroke-width="2.0" stroke-linejoin="miter"/>
<polygon points="879.99,537.05 893.50,537.05 886.74,525.53" fill="#fff" stroke="#f3ae22" stroke-width="2.0" stroke-linejoin="miter"/>
<polygon points="891.27,537.05 904.78,537.05 898.03,525.53" fill="#fff" stroke="#f3ae22" stroke-width="2.0" stroke-linejoin="miter"/>
<polygon points="902.56,537.05 916.06,537.05 909.31,525.53" fill="#fff" stroke="#f3ae22" stroke-width="2.0" stroke-linejoin="miter"/>
<polygon points="913.84,537.05 927.35,537.05 920.59,525.53" fill="#fff" stroke="#f3ae22" stroke-width="2.0" stroke-linejoin="miter"/>
<polygon points="925.12,537.05 938.63,537.05 931.88,525.53" fill="#fff" stroke="#f3ae22" stroke-width="2.0" stroke-linejoin="miter"/>
<polygon points="936.40,537.05 949.91,537.05 943.16,525.53" fill="#fff" stroke="#f3ae22" stroke-width="2.0" stroke-linejoin="miter"/>
<polygon points="947.69,537.05 961.20,537.05 954.44,525.53" fill="#fff" stroke="#f3ae22" stroke-width="2.0" stroke-linejoin="miter"/>
<polygon points="958.97,537.05 972.48,537.05 965.73,525.53" fill="#fff" stroke="#f3ae22" stroke-width="2.0" stroke-linejoin="miter"/>
<polygon points="970.25,537.05 983.76,537.05 977.01,525.53" fill="#fff" stroke="#f3ae22" stroke-width="2.0" stroke-linejoin="miter"/>
<polygon points="981.54,537.05 995.05,537.05 988.29,525.53" fill="#fff" stroke="#f3ae22" stroke-width="2.0" stroke-linejoin="miter"/>
<polygon points="992.82,542.40 1006.33,542.40 999.57,530.88" fill="#fff" stroke="#f3ae22" stroke-width="2.0" stroke-linejoin="miter"/>
<polygon points="1004.10,539.65 1017.61,539.65 1010.86,528.13" fill="#fff" stroke="#f3ae22" stroke-width="2.0" stroke-linejoin="miter"/>
<polygon points="1015.39,541.65 1028.89,541.65 1022.14,530.13" fill="#fff" stroke="#f3ae22" stroke-width="2.0" stroke-linejoin="miter"/>
<polygon points="1026.67,541.65 1040.18,541.65 1033.42,530.13" fill="#fff" stroke="#f3ae22" stroke-width="2.0" stroke-linejoin="miter"/>
<polygon points="1037.95,541.65 1051.46,541.65 1044.71,530.13" fill="#fff" stroke="#f3ae22" stroke-width="2.0" stroke-linejoin="miter"/>
<polygon points="1049.23,556.15 1062.74,556.15 1055.99,544.63" fill="#fff" stroke="#f3ae22" stroke-width="2.0" stroke-linejoin="miter"/>
<polygon points="1060.52,556.15 1074.03,556.15 1067.27,544.63" fill="#fff" stroke="#f3ae22" stroke-width="2.0" stroke-linejoin="miter"/>
<polygon points="1071.80,556.15 1085.31,556.15 1078.55,544.63" fill="#fff" stroke="#f3ae22" stroke-width="2.0" stroke-linejoin="miter"/>
<polygon points="1083.08,556.15 1096.59,556.15 1089.84,544.63" fill="#fff" stroke="#f3ae22" stroke-width="2.0" stroke-linejoin="miter"/>
<polygon points="1094.37,556.15 1107.88,556.15 1101.12,544.63" fill="#fff" stroke="#f3ae22" stroke-width="2.0" stroke-linejoin="miter"/>
<polygon points="1105.65,556.15 1119.16,556.15 1112.40,544.63" fill="#fff" stroke="#f3ae22" stroke-width="2.0" stroke-linejoin="miter"/>
<polygon points="1116.93,547.65 1130.44,547.65 1123.69,536.13" fill="#fff" stroke="#f3ae22" stroke-width="2.0" stroke-linejoin="miter"/>
<polygon points="1128.22,547.15 1141.72,547.15 1134.97,535.63" fill="#fff" stroke="#f3ae22" stroke-width="2.0" stroke-linejoin="miter"/>
<polygon points="1139.50,547.35 1153.01,547.35 1146.25,535.83" fill="#fff" stroke="#f3ae22" stroke-width="2.0" stroke-linejoin="miter"/>
<polygon points="1150.78,547.55 1164.29,547.55 1157.54,536.03" fill="#fff" stroke="#f3ae22" stroke-width="2.0" stroke-linejoin="miter"/>
<polygon points="1162.06,547.75 1175.57,547.75 1168.82,536.23" fill="#fff" stroke="#f3ae22" stroke-width="2.0" stroke-linejoin="miter"/>
<polygon points="1173.35,547.95 1186.86,547.95 1180.10,536.43" fill="#fff" stroke="#f3ae22" stroke-width="2.0" stroke-linejoin="miter"/>
<polygon points="1184.63,548.15 1198.14,548.15 1191.38,536.63" fill="#fff" stroke="#f3ae22" stroke-width="2.0" stroke-linejoin="miter"/>
<polygon points="1195.91,548.35 1209.42,548.35 1202.67,536.83" fill="#fff" stroke="#f3ae22" stroke-width="2.0" stroke-linejoin="miter"/>
<polygon points="1207.20,548.55 1220.71,548.55 1213.95,537.03" fill="#fff" stroke="#f3ae22" stroke-width="2.0" stroke-linejoin="miter"/>
<polygon points="1218.48,548.75 1231.99,548.75 1225.23,537.23" fill="#fff" stroke="#f3ae22" stroke-width="2.0" stroke-linejoin="miter"/>
<polygon points="1229.76,548.95 1243.27,548.95 1236.52,537.43" fill="#fff" stroke="#f3ae22" stroke-width="2.0" stroke-linejoin="miter"/>
<polygon points="1241.05,549.15 1254.55,549.15 1247.80,537.63" fill="#fff" stroke="#f3ae22" stroke-width="2.0" stroke-linejoin="miter"/>
</g>
<g id="legend-markers">
<rect x="782.95" y="207.45" width="12.10" height="12.10" fill="#fff" stroke="#2a2a2a" stroke-width="2.7"/>
<circle cx="789.00" cy="249.50" r="6.15" fill="#fff" stroke="#d22a42" stroke-width="3.5"/>
<rect x="782.00" y="279.80" width="14.00" height="14.00" fill="#2a1c9c"/>
<circle cx="789.00" cy="324.00" r="7.50" fill="#4b8263"/>
<polygon points="779.25,368.30 798.75,368.30 789.00,351.30" fill="#f7a400"/>
<rect x="782.35" y="678.15" width="14.50" height="14.50" fill="#000000"/>
<circle cx="789.60" cy="722.20" r="7.75" fill="#e2001f"/>
<rect x="784.15" y="754.55" width="10.90" height="10.90" fill="#fff" stroke="#5a55a8" stroke-width="2.7"/>
<circle cx="789.60" cy="797.00" r="5.65" fill="#fff" stroke="#7d9f8b" stroke-width="2.5"/>
<polygon points="782.18,841.25 797.02,841.25 789.60,828.31" fill="#fff" stroke="#e3a62a" stroke-width="2.7" stroke-linejoin="miter"/>
</g>
</g>
<g filter="url(#softt)">
<g id="legend-text" font-family="Liberation Sans, sans-serif" fill="#333333" stroke="#333333" stroke-width="0.7">
<text x="832.6" y="224.9" font-size="32.75">[Li(G3)][TFSA]/ toluene</text>
<text x="832.6" y="261.8" font-size="32.75">[Li(G3)][TFSA]/ PC</text>
<text x="832.6" y="298.6" font-size="32.75">[Li(G4)][TFSA]/ toluene</text>
<text x="832.6" y="335.2" font-size="32.75">[Li(G4)][TFSA]/ PC</text>
<text x="832.6" y="372.2" font-size="32.75">[Li(G4)][TFSA]/ HFE</text>
<text x="832.6" y="696.2" font-size="32.75">[Li(G3)][TFSA]/ toluene</text>
<text x="832.6" y="733.0" font-size="32.75">[Li(G3)][TFSA]/ PC</text>
<text x="832.6" y="769.9" font-size="32.75">[Li(G4)][TFSA]/ toluene</text>
<text x="832.6" y="807.1" font-size="32.75">[Li(G4)][TFSA]/ PC</text>
<text x="832.6" y="844.0" font-size="32.75">[Li(G4)][TFSA]/ HFE</text>
</g>
<g id="labels" font-family="Liberation Sans, sans-serif" fill="#333333" stroke="#333333" stroke-width="0.7">
<text x="85.7" y="23.0" font-size="29.8" text-anchor="middle">100</text>
<text x="89.7" y="164.3" font-size="29.8" text-anchor="middle">90</text>
<text x="89.7" y="307.0" font-size="29.8" text-anchor="middle">80</text>
<text x="90.0" y="445.6" font-size="29.8" text-anchor="middle">70</text>
<text x="86.6" y="500.5" font-size="29.8" text-anchor="middle">140</text>
<text x="85.8" y="560.3" font-size="29.8" text-anchor="middle">120</text>
<text x="85.8" y="621.7" font-size="29.8" text-anchor="middle">100</text>
<text x="90.7" y="682.9" font-size="29.8" text-anchor="middle">80</text>
<text x="91.3" y="742.9" font-size="29.8" text-anchor="middle">60</text>
<text x="91.3" y="803.0" font-size="29.8" text-anchor="middle">40</text>
<text x="91.3" y="863.5" font-size="29.8" text-anchor="middle">20</text>
<text x="97.5" y="922.7" font-size="29.8" text-anchor="middle">0</text>
<text x="122.5" y="953.0" font-size="29.8" text-anchor="middle">0</text>
<text x="349.0" y="953.0" font-size="29.8" text-anchor="middle">20</text>
<text x="575.0" y="953.0" font-size="29.8" text-anchor="middle">40</text>
<text x="800.0" y="953.0" font-size="29.8" text-anchor="middle">60</text>
<text x="1025.7" y="953.0" font-size="29.8" text-anchor="middle">80</text>
<text x="1252.6" y="953.0" font-size="29.8" text-anchor="middle">100</text>
<text transform="translate(36,301.3) rotate(-90)" font-size="36">Efficiency %</text>
<text transform="translate(36.5,863) rotate(-90)" font-size="36.4">Capacity (mAh g<tspan font-size="22" dy="-13">-1</tspan><tspan dy="13">)</tspan></text>
<text x="574.3" y="993.5" font-size="35.8">Cycle number</text>
</g>
</g>
</svg>
</body>
</html>
